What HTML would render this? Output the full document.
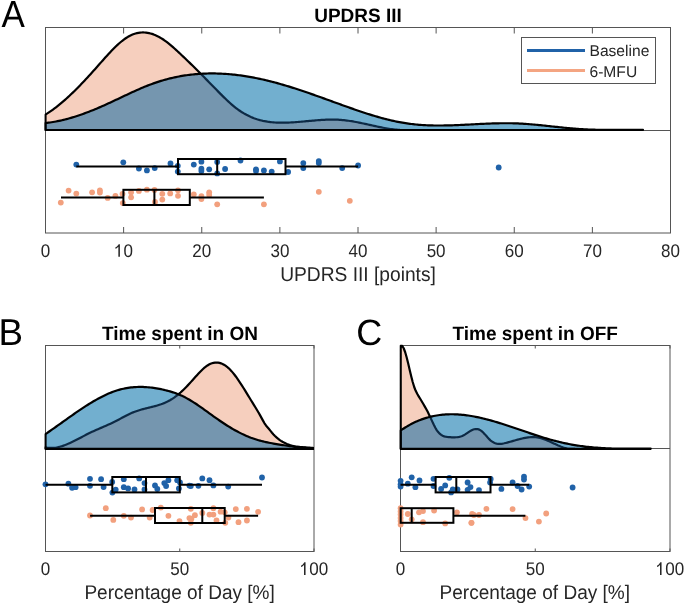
<!DOCTYPE html>
<html><head><meta charset="utf-8"><style>
html,body{margin:0;padding:0;background:#fff;width:685px;height:605px;overflow:hidden}
svg{display:block;position:absolute;left:0;top:0}
.tx{opacity:0.999;will-change:opacity}
text{font-family:"Liberation Sans",sans-serif;fill:#262626;text-rendering:geometricPrecision}
.tk{font-size:17px;text-anchor:middle}
.al{font-size:19.2px;text-anchor:middle}
.tt{font-size:19px;font-weight:bold;text-anchor:middle;fill:#000}
.lg{font-size:15.6px}
.pl{font-size:35.5px;fill:#000}
</style></head><body>
<svg width="685" height="605" viewBox="0 0 685 605">
<defs>
<clipPath id="clA"><rect x="44.3" y="0" width="626.2" height="605"/></clipPath>
<clipPath id="clB"><rect x="44.3" y="0" width="269.7" height="605"/></clipPath>
<clipPath id="clC"><rect x="399.3" y="0" width="270.7" height="605"/></clipPath>
</defs>
<rect x="45.5" y="27.5" width="625.0" height="205.5" fill="none" stroke="#555555" stroke-width="1"/>
<line x1="45.50" y1="27.5" x2="45.50" y2="33.5" stroke="#555555" stroke-width="1"/>
<line x1="45.50" y1="233.0" x2="45.50" y2="227.0" stroke="#555555" stroke-width="1"/>
<line x1="123.62" y1="27.5" x2="123.62" y2="33.5" stroke="#555555" stroke-width="1"/>
<line x1="123.62" y1="233.0" x2="123.62" y2="227.0" stroke="#555555" stroke-width="1"/>
<line x1="201.75" y1="27.5" x2="201.75" y2="33.5" stroke="#555555" stroke-width="1"/>
<line x1="201.75" y1="233.0" x2="201.75" y2="227.0" stroke="#555555" stroke-width="1"/>
<line x1="279.88" y1="27.5" x2="279.88" y2="33.5" stroke="#555555" stroke-width="1"/>
<line x1="279.88" y1="233.0" x2="279.88" y2="227.0" stroke="#555555" stroke-width="1"/>
<line x1="358.00" y1="27.5" x2="358.00" y2="33.5" stroke="#555555" stroke-width="1"/>
<line x1="358.00" y1="233.0" x2="358.00" y2="227.0" stroke="#555555" stroke-width="1"/>
<line x1="436.12" y1="27.5" x2="436.12" y2="33.5" stroke="#555555" stroke-width="1"/>
<line x1="436.12" y1="233.0" x2="436.12" y2="227.0" stroke="#555555" stroke-width="1"/>
<line x1="514.25" y1="27.5" x2="514.25" y2="33.5" stroke="#555555" stroke-width="1"/>
<line x1="514.25" y1="233.0" x2="514.25" y2="227.0" stroke="#555555" stroke-width="1"/>
<line x1="592.38" y1="27.5" x2="592.38" y2="33.5" stroke="#555555" stroke-width="1"/>
<line x1="592.38" y1="233.0" x2="592.38" y2="227.0" stroke="#555555" stroke-width="1"/>
<line x1="670.50" y1="27.5" x2="670.50" y2="33.5" stroke="#555555" stroke-width="1"/>
<line x1="670.50" y1="233.0" x2="670.50" y2="227.0" stroke="#555555" stroke-width="1"/>
<rect x="45.5" y="345.5" width="268.5" height="206.0" fill="none" stroke="#555555" stroke-width="1"/>
<line x1="45.50" y1="345.5" x2="45.50" y2="348.5" stroke="#555555" stroke-width="1"/>
<line x1="45.50" y1="551.5" x2="45.50" y2="548.5" stroke="#555555" stroke-width="1"/>
<line x1="179.75" y1="345.5" x2="179.75" y2="348.5" stroke="#555555" stroke-width="1"/>
<line x1="179.75" y1="551.5" x2="179.75" y2="548.5" stroke="#555555" stroke-width="1"/>
<line x1="314.00" y1="345.5" x2="314.00" y2="348.5" stroke="#555555" stroke-width="1"/>
<line x1="314.00" y1="551.5" x2="314.00" y2="548.5" stroke="#555555" stroke-width="1"/>
<rect x="400.5" y="345.5" width="269.5" height="206.0" fill="none" stroke="#555555" stroke-width="1"/>
<line x1="400.50" y1="345.5" x2="400.50" y2="348.5" stroke="#555555" stroke-width="1"/>
<line x1="400.50" y1="551.5" x2="400.50" y2="548.5" stroke="#555555" stroke-width="1"/>
<line x1="535.25" y1="345.5" x2="535.25" y2="348.5" stroke="#555555" stroke-width="1"/>
<line x1="535.25" y1="551.5" x2="535.25" y2="548.5" stroke="#555555" stroke-width="1"/>
<line x1="670.00" y1="345.5" x2="670.00" y2="348.5" stroke="#555555" stroke-width="1"/>
<line x1="670.00" y1="551.5" x2="670.00" y2="548.5" stroke="#555555" stroke-width="1"/>
<line x1="45.5" y1="130.5" x2="670.5" y2="130.5" stroke="#555555" stroke-width="1"/>
<line x1="45.5" y1="448.5" x2="314.0" y2="448.5" stroke="#555555" stroke-width="1"/>
<line x1="400.5" y1="448.5" x2="670.0" y2="448.5" stroke="#555555" stroke-width="1"/>
<g clip-path="url(#clA)"><clipPath id="A_oc"><path d="M45.50,130.00 L45.50,114.62 L47.00,113.68 L48.50,112.70 L50.00,111.69 L51.50,110.64 L53.00,109.56 L54.50,108.45 L56.00,107.31 L57.50,106.13 L59.00,104.93 L60.50,103.70 L62.00,102.44 L63.50,101.15 L65.00,99.83 L66.50,98.49 L68.00,97.13 L69.50,95.74 L71.00,94.32 L72.50,92.89 L74.00,91.43 L75.50,89.95 L77.00,88.46 L78.50,86.94 L80.00,85.40 L81.50,83.85 L83.00,82.28 L84.50,80.69 L86.00,79.08 L87.50,77.47 L89.00,75.83 L90.50,74.19 L92.00,72.53 L93.50,70.86 L95.00,69.18 L96.50,67.49 L98.00,65.80 L99.50,64.09 L101.00,62.39 L102.50,60.69 L104.00,58.99 L105.50,57.31 L107.00,55.65 L108.50,54.01 L110.00,52.40 L111.50,50.82 L113.00,49.27 L114.50,47.77 L116.00,46.31 L117.50,44.90 L119.00,43.54 L120.50,42.25 L122.00,41.01 L123.50,39.85 L125.00,38.76 L126.50,37.75 L128.00,36.82 L129.50,35.98 L131.00,35.22 L132.50,34.57 L134.00,34.00 L135.50,33.52 L137.00,33.13 L138.50,32.83 L140.00,32.62 L141.50,32.49 L143.00,32.44 L144.50,32.48 L146.00,32.60 L147.50,32.81 L149.00,33.09 L150.50,33.45 L152.00,33.89 L153.50,34.40 L155.00,34.99 L156.50,35.65 L158.00,36.39 L159.50,37.20 L161.00,38.08 L162.50,39.02 L164.00,40.03 L165.50,41.11 L167.00,42.23 L168.50,43.41 L170.00,44.63 L171.50,45.89 L173.00,47.19 L174.50,48.52 L176.00,49.87 L177.50,51.25 L179.00,52.64 L180.50,54.05 L182.00,55.46 L183.50,56.88 L185.00,58.31 L186.50,59.75 L188.00,61.20 L189.50,62.65 L191.00,64.11 L192.50,65.58 L194.00,67.06 L195.50,68.54 L197.00,70.04 L198.50,71.53 L200.00,73.04 L201.50,74.55 L203.00,76.06 L204.50,77.58 L206.00,79.11 L207.50,80.64 L209.00,82.17 L210.50,83.70 L212.00,85.23 L213.50,86.76 L215.00,88.30 L216.50,89.83 L218.00,91.36 L219.50,92.87 L221.00,94.38 L222.50,95.88 L224.00,97.35 L225.50,98.80 L227.00,100.23 L228.50,101.62 L230.00,102.98 L231.50,104.31 L233.00,105.59 L234.50,106.83 L236.00,108.02 L237.50,109.16 L239.00,110.24 L240.50,111.27 L242.00,112.24 L243.50,113.16 L245.00,114.02 L246.50,114.84 L248.00,115.60 L249.50,116.32 L251.00,116.99 L252.50,117.61 L254.00,118.19 L255.50,118.73 L257.00,119.23 L258.50,119.68 L260.00,120.10 L261.50,120.48 L263.00,120.83 L264.50,121.14 L266.00,121.42 L267.50,121.67 L269.00,121.88 L270.50,122.07 L272.00,122.23 L273.50,122.37 L275.00,122.48 L276.50,122.56 L278.00,122.63 L279.50,122.67 L281.00,122.70 L282.50,122.70 L284.00,122.69 L285.50,122.67 L287.00,122.63 L288.50,122.57 L290.00,122.51 L291.50,122.43 L293.00,122.34 L294.50,122.24 L296.00,122.13 L297.50,122.02 L299.00,121.89 L300.50,121.76 L302.00,121.63 L303.50,121.50 L305.00,121.36 L306.50,121.22 L308.00,121.07 L309.50,120.93 L311.00,120.80 L312.50,120.66 L314.00,120.53 L315.50,120.40 L317.00,120.27 L318.50,120.16 L320.00,120.05 L321.50,119.95 L323.00,119.86 L324.50,119.78 L326.00,119.71 L327.50,119.66 L329.00,119.61 L330.50,119.59 L332.00,119.58 L333.50,119.58 L335.00,119.61 L336.50,119.65 L338.00,119.71 L339.50,119.80 L341.00,119.90 L342.50,120.03 L344.00,120.18 L345.50,120.35 L347.00,120.54 L348.50,120.74 L350.00,120.97 L351.50,121.21 L353.00,121.46 L354.50,121.73 L356.00,122.01 L357.50,122.29 L359.00,122.59 L360.50,122.90 L362.00,123.21 L363.50,123.54 L365.00,123.86 L366.50,124.19 L368.00,124.52 L369.50,124.85 L371.00,125.19 L372.50,125.52 L374.00,125.85 L375.50,126.17 L377.00,126.49 L378.50,126.81 L380.00,127.12 L381.50,127.42 L383.00,127.71 L384.50,127.99 L386.00,128.26 L387.50,128.51 L389.00,128.75 L390.50,128.98 L392.00,129.19 L393.50,129.38 L395.00,129.55 L396.50,129.70 L398.00,129.83 L399.50,129.94 L400.00,129.97 L400.00,130.00 Z"/></clipPath>
<clipPath id="A_bc"><path d="M45.50,130.00 L45.50,123.05 L47.00,122.88 L48.50,122.70 L50.00,122.49 L51.50,122.27 L53.00,122.03 L54.50,121.77 L56.00,121.50 L57.50,121.20 L59.00,120.89 L60.50,120.57 L62.00,120.23 L63.50,119.87 L65.00,119.50 L66.50,119.11 L68.00,118.71 L69.50,118.29 L71.00,117.86 L72.50,117.41 L74.00,116.95 L75.50,116.48 L77.00,116.00 L78.50,115.50 L80.00,114.99 L81.50,114.47 L83.00,113.93 L84.50,113.39 L86.00,112.83 L87.50,112.27 L89.00,111.69 L90.50,111.10 L92.00,110.50 L93.50,109.90 L95.00,109.28 L96.50,108.65 L98.00,108.02 L99.50,107.38 L101.00,106.73 L102.50,106.07 L104.00,105.40 L105.50,104.73 L107.00,104.05 L108.50,103.36 L110.00,102.67 L111.50,101.97 L113.00,101.27 L114.50,100.57 L116.00,99.86 L117.50,99.15 L119.00,98.44 L120.50,97.73 L122.00,97.02 L123.50,96.31 L125.00,95.60 L126.50,94.89 L128.00,94.19 L129.50,93.49 L131.00,92.79 L132.50,92.10 L134.00,91.42 L135.50,90.74 L137.00,90.07 L138.50,89.41 L140.00,88.75 L141.50,88.11 L143.00,87.47 L144.50,86.85 L146.00,86.24 L147.50,85.64 L149.00,85.05 L150.50,84.48 L152.00,83.92 L153.50,83.38 L155.00,82.86 L156.50,82.34 L158.00,81.85 L159.50,81.37 L161.00,80.90 L162.50,80.45 L164.00,80.02 L165.50,79.60 L167.00,79.19 L168.50,78.80 L170.00,78.43 L171.50,78.07 L173.00,77.72 L174.50,77.39 L176.00,77.07 L177.50,76.76 L179.00,76.47 L180.50,76.20 L182.00,75.94 L183.50,75.69 L185.00,75.45 L186.50,75.23 L188.00,75.03 L189.50,74.83 L191.00,74.65 L192.50,74.48 L194.00,74.33 L195.50,74.18 L197.00,74.06 L198.50,73.94 L200.00,73.84 L201.50,73.74 L203.00,73.67 L204.50,73.60 L206.00,73.54 L207.50,73.50 L209.00,73.47 L210.50,73.45 L212.00,73.45 L213.50,73.45 L215.00,73.47 L216.50,73.50 L218.00,73.54 L219.50,73.59 L221.00,73.65 L222.50,73.73 L224.00,73.81 L225.50,73.91 L227.00,74.01 L228.50,74.13 L230.00,74.26 L231.50,74.40 L233.00,74.54 L234.50,74.70 L236.00,74.87 L237.50,75.05 L239.00,75.24 L240.50,75.44 L242.00,75.65 L243.50,75.87 L245.00,76.10 L246.50,76.33 L248.00,76.58 L249.50,76.84 L251.00,77.10 L252.50,77.38 L254.00,77.66 L255.50,77.96 L257.00,78.26 L258.50,78.57 L260.00,78.89 L261.50,79.21 L263.00,79.55 L264.50,79.89 L266.00,80.25 L267.50,80.61 L269.00,80.97 L270.50,81.35 L272.00,81.73 L273.50,82.13 L275.00,82.53 L276.50,82.93 L278.00,83.35 L279.50,83.77 L281.00,84.19 L282.50,84.63 L284.00,85.07 L285.50,85.51 L287.00,85.96 L288.50,86.42 L290.00,86.88 L291.50,87.35 L293.00,87.83 L294.50,88.31 L296.00,88.79 L297.50,89.28 L299.00,89.77 L300.50,90.27 L302.00,90.77 L303.50,91.27 L305.00,91.78 L306.50,92.30 L308.00,92.81 L309.50,93.33 L311.00,93.85 L312.50,94.38 L314.00,94.90 L315.50,95.43 L317.00,95.96 L318.50,96.50 L320.00,97.03 L321.50,97.57 L323.00,98.11 L324.50,98.65 L326.00,99.19 L327.50,99.73 L329.00,100.28 L330.50,100.82 L332.00,101.36 L333.50,101.91 L335.00,102.45 L336.50,103.00 L338.00,103.54 L339.50,104.08 L341.00,104.62 L342.50,105.16 L344.00,105.70 L345.50,106.24 L347.00,106.78 L348.50,107.31 L350.00,107.84 L351.50,108.37 L353.00,108.90 L354.50,109.42 L356.00,109.94 L357.50,110.45 L359.00,110.97 L360.50,111.47 L362.00,111.97 L363.50,112.47 L365.00,112.96 L366.50,113.45 L368.00,113.93 L369.50,114.40 L371.00,114.87 L372.50,115.33 L374.00,115.78 L375.50,116.23 L377.00,116.67 L378.50,117.10 L380.00,117.52 L381.50,117.94 L383.00,118.34 L384.50,118.74 L386.00,119.13 L387.50,119.51 L389.00,119.87 L390.50,120.23 L392.00,120.58 L393.50,120.92 L395.00,121.24 L396.50,121.56 L398.00,121.86 L399.50,122.15 L401.00,122.43 L402.50,122.70 L404.00,122.95 L405.50,123.19 L407.00,123.42 L408.50,123.64 L410.00,123.84 L411.50,124.02 L413.00,124.20 L414.50,124.36 L416.00,124.51 L417.50,124.65 L419.00,124.78 L420.50,124.89 L422.00,125.00 L423.50,125.09 L425.00,125.17 L426.50,125.25 L428.00,125.31 L429.50,125.37 L431.00,125.41 L432.50,125.45 L434.00,125.48 L435.50,125.50 L437.00,125.51 L438.50,125.52 L440.00,125.52 L441.50,125.51 L443.00,125.49 L444.50,125.47 L446.00,125.45 L447.50,125.41 L449.00,125.38 L450.50,125.33 L452.00,125.29 L453.50,125.24 L455.00,125.18 L456.50,125.12 L458.00,125.06 L459.50,124.99 L461.00,124.93 L462.50,124.86 L464.00,124.78 L465.50,124.71 L467.00,124.63 L468.50,124.56 L470.00,124.48 L471.50,124.40 L473.00,124.32 L474.50,124.25 L476.00,124.17 L477.50,124.09 L479.00,124.02 L480.50,123.94 L482.00,123.87 L483.50,123.80 L485.00,123.73 L486.50,123.67 L488.00,123.60 L489.50,123.54 L491.00,123.49 L492.50,123.44 L494.00,123.39 L495.50,123.35 L497.00,123.31 L498.50,123.28 L500.00,123.25 L501.50,123.25 L503.00,123.25 L504.50,123.25 L506.00,123.25 L507.50,123.25 L509.00,123.25 L510.50,123.25 L512.00,123.27 L513.50,123.31 L515.00,123.35 L516.50,123.41 L518.00,123.47 L519.50,123.54 L521.00,123.62 L522.50,123.71 L524.00,123.80 L525.50,123.91 L527.00,124.01 L528.50,124.13 L530.00,124.25 L531.50,124.37 L533.00,124.50 L534.50,124.64 L536.00,124.77 L537.50,124.92 L539.00,125.06 L540.50,125.21 L542.00,125.37 L543.50,125.52 L545.00,125.68 L546.50,125.84 L548.00,126.00 L549.50,126.16 L551.00,126.32 L552.50,126.48 L554.00,126.64 L555.50,126.80 L557.00,126.96 L558.50,127.12 L560.00,127.28 L561.50,127.44 L563.00,127.59 L564.50,127.74 L566.00,127.89 L567.50,128.03 L569.00,128.17 L570.50,128.31 L572.00,128.44 L573.50,128.57 L575.00,128.69 L576.50,128.81 L578.00,128.92 L579.50,129.02 L581.00,129.12 L582.50,129.21 L584.00,129.29 L585.50,129.37 L587.00,129.44 L588.50,129.51 L590.00,129.57 L591.50,129.62 L593.00,129.67 L594.50,129.72 L596.00,129.76 L597.50,129.79 L599.00,129.82 L600.50,129.85 L602.00,129.88 L603.50,129.89 L605.00,129.91 L606.50,129.92 L608.00,129.93 L609.50,129.94 L611.00,129.94 L612.50,129.95 L614.00,129.95 L615.50,129.95 L617.00,129.95 L618.50,129.95 L620.00,129.95 L621.50,129.95 L623.00,129.95 L624.50,129.95 L626.00,129.95 L627.50,129.95 L629.00,129.95 L630.50,129.95 L632.00,129.95 L633.50,129.95 L635.00,129.95 L636.50,129.95 L638.00,129.95 L639.50,129.95 L641.00,129.95 L642.50,129.95 L643.00,129.95 L643.00,130.00 Z"/></clipPath>
<path d="M45.50,130.00 L45.50,114.62 L47.00,113.68 L48.50,112.70 L50.00,111.69 L51.50,110.64 L53.00,109.56 L54.50,108.45 L56.00,107.31 L57.50,106.13 L59.00,104.93 L60.50,103.70 L62.00,102.44 L63.50,101.15 L65.00,99.83 L66.50,98.49 L68.00,97.13 L69.50,95.74 L71.00,94.32 L72.50,92.89 L74.00,91.43 L75.50,89.95 L77.00,88.46 L78.50,86.94 L80.00,85.40 L81.50,83.85 L83.00,82.28 L84.50,80.69 L86.00,79.08 L87.50,77.47 L89.00,75.83 L90.50,74.19 L92.00,72.53 L93.50,70.86 L95.00,69.18 L96.50,67.49 L98.00,65.80 L99.50,64.09 L101.00,62.39 L102.50,60.69 L104.00,58.99 L105.50,57.31 L107.00,55.65 L108.50,54.01 L110.00,52.40 L111.50,50.82 L113.00,49.27 L114.50,47.77 L116.00,46.31 L117.50,44.90 L119.00,43.54 L120.50,42.25 L122.00,41.01 L123.50,39.85 L125.00,38.76 L126.50,37.75 L128.00,36.82 L129.50,35.98 L131.00,35.22 L132.50,34.57 L134.00,34.00 L135.50,33.52 L137.00,33.13 L138.50,32.83 L140.00,32.62 L141.50,32.49 L143.00,32.44 L144.50,32.48 L146.00,32.60 L147.50,32.81 L149.00,33.09 L150.50,33.45 L152.00,33.89 L153.50,34.40 L155.00,34.99 L156.50,35.65 L158.00,36.39 L159.50,37.20 L161.00,38.08 L162.50,39.02 L164.00,40.03 L165.50,41.11 L167.00,42.23 L168.50,43.41 L170.00,44.63 L171.50,45.89 L173.00,47.19 L174.50,48.52 L176.00,49.87 L177.50,51.25 L179.00,52.64 L180.50,54.05 L182.00,55.46 L183.50,56.88 L185.00,58.31 L186.50,59.75 L188.00,61.20 L189.50,62.65 L191.00,64.11 L192.50,65.58 L194.00,67.06 L195.50,68.54 L197.00,70.04 L198.50,71.53 L200.00,73.04 L201.50,74.55 L203.00,76.06 L204.50,77.58 L206.00,79.11 L207.50,80.64 L209.00,82.17 L210.50,83.70 L212.00,85.23 L213.50,86.76 L215.00,88.30 L216.50,89.83 L218.00,91.36 L219.50,92.87 L221.00,94.38 L222.50,95.88 L224.00,97.35 L225.50,98.80 L227.00,100.23 L228.50,101.62 L230.00,102.98 L231.50,104.31 L233.00,105.59 L234.50,106.83 L236.00,108.02 L237.50,109.16 L239.00,110.24 L240.50,111.27 L242.00,112.24 L243.50,113.16 L245.00,114.02 L246.50,114.84 L248.00,115.60 L249.50,116.32 L251.00,116.99 L252.50,117.61 L254.00,118.19 L255.50,118.73 L257.00,119.23 L258.50,119.68 L260.00,120.10 L261.50,120.48 L263.00,120.83 L264.50,121.14 L266.00,121.42 L267.50,121.67 L269.00,121.88 L270.50,122.07 L272.00,122.23 L273.50,122.37 L275.00,122.48 L276.50,122.56 L278.00,122.63 L279.50,122.67 L281.00,122.70 L282.50,122.70 L284.00,122.69 L285.50,122.67 L287.00,122.63 L288.50,122.57 L290.00,122.51 L291.50,122.43 L293.00,122.34 L294.50,122.24 L296.00,122.13 L297.50,122.02 L299.00,121.89 L300.50,121.76 L302.00,121.63 L303.50,121.50 L305.00,121.36 L306.50,121.22 L308.00,121.07 L309.50,120.93 L311.00,120.80 L312.50,120.66 L314.00,120.53 L315.50,120.40 L317.00,120.27 L318.50,120.16 L320.00,120.05 L321.50,119.95 L323.00,119.86 L324.50,119.78 L326.00,119.71 L327.50,119.66 L329.00,119.61 L330.50,119.59 L332.00,119.58 L333.50,119.58 L335.00,119.61 L336.50,119.65 L338.00,119.71 L339.50,119.80 L341.00,119.90 L342.50,120.03 L344.00,120.18 L345.50,120.35 L347.00,120.54 L348.50,120.74 L350.00,120.97 L351.50,121.21 L353.00,121.46 L354.50,121.73 L356.00,122.01 L357.50,122.29 L359.00,122.59 L360.50,122.90 L362.00,123.21 L363.50,123.54 L365.00,123.86 L366.50,124.19 L368.00,124.52 L369.50,124.85 L371.00,125.19 L372.50,125.52 L374.00,125.85 L375.50,126.17 L377.00,126.49 L378.50,126.81 L380.00,127.12 L381.50,127.42 L383.00,127.71 L384.50,127.99 L386.00,128.26 L387.50,128.51 L389.00,128.75 L390.50,128.98 L392.00,129.19 L393.50,129.38 L395.00,129.55 L396.50,129.70 L398.00,129.83 L399.50,129.94 L400.00,129.97 L400.00,130.00 Z" fill="#f6cfbe" stroke="#000" stroke-width="2.2" stroke-linejoin="round"/>
<path d="M45.50,130.00 L45.50,123.05 L47.00,122.88 L48.50,122.70 L50.00,122.49 L51.50,122.27 L53.00,122.03 L54.50,121.77 L56.00,121.50 L57.50,121.20 L59.00,120.89 L60.50,120.57 L62.00,120.23 L63.50,119.87 L65.00,119.50 L66.50,119.11 L68.00,118.71 L69.50,118.29 L71.00,117.86 L72.50,117.41 L74.00,116.95 L75.50,116.48 L77.00,116.00 L78.50,115.50 L80.00,114.99 L81.50,114.47 L83.00,113.93 L84.50,113.39 L86.00,112.83 L87.50,112.27 L89.00,111.69 L90.50,111.10 L92.00,110.50 L93.50,109.90 L95.00,109.28 L96.50,108.65 L98.00,108.02 L99.50,107.38 L101.00,106.73 L102.50,106.07 L104.00,105.40 L105.50,104.73 L107.00,104.05 L108.50,103.36 L110.00,102.67 L111.50,101.97 L113.00,101.27 L114.50,100.57 L116.00,99.86 L117.50,99.15 L119.00,98.44 L120.50,97.73 L122.00,97.02 L123.50,96.31 L125.00,95.60 L126.50,94.89 L128.00,94.19 L129.50,93.49 L131.00,92.79 L132.50,92.10 L134.00,91.42 L135.50,90.74 L137.00,90.07 L138.50,89.41 L140.00,88.75 L141.50,88.11 L143.00,87.47 L144.50,86.85 L146.00,86.24 L147.50,85.64 L149.00,85.05 L150.50,84.48 L152.00,83.92 L153.50,83.38 L155.00,82.86 L156.50,82.34 L158.00,81.85 L159.50,81.37 L161.00,80.90 L162.50,80.45 L164.00,80.02 L165.50,79.60 L167.00,79.19 L168.50,78.80 L170.00,78.43 L171.50,78.07 L173.00,77.72 L174.50,77.39 L176.00,77.07 L177.50,76.76 L179.00,76.47 L180.50,76.20 L182.00,75.94 L183.50,75.69 L185.00,75.45 L186.50,75.23 L188.00,75.03 L189.50,74.83 L191.00,74.65 L192.50,74.48 L194.00,74.33 L195.50,74.18 L197.00,74.06 L198.50,73.94 L200.00,73.84 L201.50,73.74 L203.00,73.67 L204.50,73.60 L206.00,73.54 L207.50,73.50 L209.00,73.47 L210.50,73.45 L212.00,73.45 L213.50,73.45 L215.00,73.47 L216.50,73.50 L218.00,73.54 L219.50,73.59 L221.00,73.65 L222.50,73.73 L224.00,73.81 L225.50,73.91 L227.00,74.01 L228.50,74.13 L230.00,74.26 L231.50,74.40 L233.00,74.54 L234.50,74.70 L236.00,74.87 L237.50,75.05 L239.00,75.24 L240.50,75.44 L242.00,75.65 L243.50,75.87 L245.00,76.10 L246.50,76.33 L248.00,76.58 L249.50,76.84 L251.00,77.10 L252.50,77.38 L254.00,77.66 L255.50,77.96 L257.00,78.26 L258.50,78.57 L260.00,78.89 L261.50,79.21 L263.00,79.55 L264.50,79.89 L266.00,80.25 L267.50,80.61 L269.00,80.97 L270.50,81.35 L272.00,81.73 L273.50,82.13 L275.00,82.53 L276.50,82.93 L278.00,83.35 L279.50,83.77 L281.00,84.19 L282.50,84.63 L284.00,85.07 L285.50,85.51 L287.00,85.96 L288.50,86.42 L290.00,86.88 L291.50,87.35 L293.00,87.83 L294.50,88.31 L296.00,88.79 L297.50,89.28 L299.00,89.77 L300.50,90.27 L302.00,90.77 L303.50,91.27 L305.00,91.78 L306.50,92.30 L308.00,92.81 L309.50,93.33 L311.00,93.85 L312.50,94.38 L314.00,94.90 L315.50,95.43 L317.00,95.96 L318.50,96.50 L320.00,97.03 L321.50,97.57 L323.00,98.11 L324.50,98.65 L326.00,99.19 L327.50,99.73 L329.00,100.28 L330.50,100.82 L332.00,101.36 L333.50,101.91 L335.00,102.45 L336.50,103.00 L338.00,103.54 L339.50,104.08 L341.00,104.62 L342.50,105.16 L344.00,105.70 L345.50,106.24 L347.00,106.78 L348.50,107.31 L350.00,107.84 L351.50,108.37 L353.00,108.90 L354.50,109.42 L356.00,109.94 L357.50,110.45 L359.00,110.97 L360.50,111.47 L362.00,111.97 L363.50,112.47 L365.00,112.96 L366.50,113.45 L368.00,113.93 L369.50,114.40 L371.00,114.87 L372.50,115.33 L374.00,115.78 L375.50,116.23 L377.00,116.67 L378.50,117.10 L380.00,117.52 L381.50,117.94 L383.00,118.34 L384.50,118.74 L386.00,119.13 L387.50,119.51 L389.00,119.87 L390.50,120.23 L392.00,120.58 L393.50,120.92 L395.00,121.24 L396.50,121.56 L398.00,121.86 L399.50,122.15 L401.00,122.43 L402.50,122.70 L404.00,122.95 L405.50,123.19 L407.00,123.42 L408.50,123.64 L410.00,123.84 L411.50,124.02 L413.00,124.20 L414.50,124.36 L416.00,124.51 L417.50,124.65 L419.00,124.78 L420.50,124.89 L422.00,125.00 L423.50,125.09 L425.00,125.17 L426.50,125.25 L428.00,125.31 L429.50,125.37 L431.00,125.41 L432.50,125.45 L434.00,125.48 L435.50,125.50 L437.00,125.51 L438.50,125.52 L440.00,125.52 L441.50,125.51 L443.00,125.49 L444.50,125.47 L446.00,125.45 L447.50,125.41 L449.00,125.38 L450.50,125.33 L452.00,125.29 L453.50,125.24 L455.00,125.18 L456.50,125.12 L458.00,125.06 L459.50,124.99 L461.00,124.93 L462.50,124.86 L464.00,124.78 L465.50,124.71 L467.00,124.63 L468.50,124.56 L470.00,124.48 L471.50,124.40 L473.00,124.32 L474.50,124.25 L476.00,124.17 L477.50,124.09 L479.00,124.02 L480.50,123.94 L482.00,123.87 L483.50,123.80 L485.00,123.73 L486.50,123.67 L488.00,123.60 L489.50,123.54 L491.00,123.49 L492.50,123.44 L494.00,123.39 L495.50,123.35 L497.00,123.31 L498.50,123.28 L500.00,123.25 L501.50,123.25 L503.00,123.25 L504.50,123.25 L506.00,123.25 L507.50,123.25 L509.00,123.25 L510.50,123.25 L512.00,123.27 L513.50,123.31 L515.00,123.35 L516.50,123.41 L518.00,123.47 L519.50,123.54 L521.00,123.62 L522.50,123.71 L524.00,123.80 L525.50,123.91 L527.00,124.01 L528.50,124.13 L530.00,124.25 L531.50,124.37 L533.00,124.50 L534.50,124.64 L536.00,124.77 L537.50,124.92 L539.00,125.06 L540.50,125.21 L542.00,125.37 L543.50,125.52 L545.00,125.68 L546.50,125.84 L548.00,126.00 L549.50,126.16 L551.00,126.32 L552.50,126.48 L554.00,126.64 L555.50,126.80 L557.00,126.96 L558.50,127.12 L560.00,127.28 L561.50,127.44 L563.00,127.59 L564.50,127.74 L566.00,127.89 L567.50,128.03 L569.00,128.17 L570.50,128.31 L572.00,128.44 L573.50,128.57 L575.00,128.69 L576.50,128.81 L578.00,128.92 L579.50,129.02 L581.00,129.12 L582.50,129.21 L584.00,129.29 L585.50,129.37 L587.00,129.44 L588.50,129.51 L590.00,129.57 L591.50,129.62 L593.00,129.67 L594.50,129.72 L596.00,129.76 L597.50,129.79 L599.00,129.82 L600.50,129.85 L602.00,129.88 L603.50,129.89 L605.00,129.91 L606.50,129.92 L608.00,129.93 L609.50,129.94 L611.00,129.94 L612.50,129.95 L614.00,129.95 L615.50,129.95 L617.00,129.95 L618.50,129.95 L620.00,129.95 L621.50,129.95 L623.00,129.95 L624.50,129.95 L626.00,129.95 L627.50,129.95 L629.00,129.95 L630.50,129.95 L632.00,129.95 L633.50,129.95 L635.00,129.95 L636.50,129.95 L638.00,129.95 L639.50,129.95 L641.00,129.95 L642.50,129.95 L643.00,129.95 L643.00,130.00 Z" fill="#72afcf"/>
<path d="M45.50,130.00 L45.50,123.05 L47.00,122.88 L48.50,122.70 L50.00,122.49 L51.50,122.27 L53.00,122.03 L54.50,121.77 L56.00,121.50 L57.50,121.20 L59.00,120.89 L60.50,120.57 L62.00,120.23 L63.50,119.87 L65.00,119.50 L66.50,119.11 L68.00,118.71 L69.50,118.29 L71.00,117.86 L72.50,117.41 L74.00,116.95 L75.50,116.48 L77.00,116.00 L78.50,115.50 L80.00,114.99 L81.50,114.47 L83.00,113.93 L84.50,113.39 L86.00,112.83 L87.50,112.27 L89.00,111.69 L90.50,111.10 L92.00,110.50 L93.50,109.90 L95.00,109.28 L96.50,108.65 L98.00,108.02 L99.50,107.38 L101.00,106.73 L102.50,106.07 L104.00,105.40 L105.50,104.73 L107.00,104.05 L108.50,103.36 L110.00,102.67 L111.50,101.97 L113.00,101.27 L114.50,100.57 L116.00,99.86 L117.50,99.15 L119.00,98.44 L120.50,97.73 L122.00,97.02 L123.50,96.31 L125.00,95.60 L126.50,94.89 L128.00,94.19 L129.50,93.49 L131.00,92.79 L132.50,92.10 L134.00,91.42 L135.50,90.74 L137.00,90.07 L138.50,89.41 L140.00,88.75 L141.50,88.11 L143.00,87.47 L144.50,86.85 L146.00,86.24 L147.50,85.64 L149.00,85.05 L150.50,84.48 L152.00,83.92 L153.50,83.38 L155.00,82.86 L156.50,82.34 L158.00,81.85 L159.50,81.37 L161.00,80.90 L162.50,80.45 L164.00,80.02 L165.50,79.60 L167.00,79.19 L168.50,78.80 L170.00,78.43 L171.50,78.07 L173.00,77.72 L174.50,77.39 L176.00,77.07 L177.50,76.76 L179.00,76.47 L180.50,76.20 L182.00,75.94 L183.50,75.69 L185.00,75.45 L186.50,75.23 L188.00,75.03 L189.50,74.83 L191.00,74.65 L192.50,74.48 L194.00,74.33 L195.50,74.18 L197.00,74.06 L198.50,73.94 L200.00,73.84 L201.50,73.74 L203.00,73.67 L204.50,73.60 L206.00,73.54 L207.50,73.50 L209.00,73.47 L210.50,73.45 L212.00,73.45 L213.50,73.45 L215.00,73.47 L216.50,73.50 L218.00,73.54 L219.50,73.59 L221.00,73.65 L222.50,73.73 L224.00,73.81 L225.50,73.91 L227.00,74.01 L228.50,74.13 L230.00,74.26 L231.50,74.40 L233.00,74.54 L234.50,74.70 L236.00,74.87 L237.50,75.05 L239.00,75.24 L240.50,75.44 L242.00,75.65 L243.50,75.87 L245.00,76.10 L246.50,76.33 L248.00,76.58 L249.50,76.84 L251.00,77.10 L252.50,77.38 L254.00,77.66 L255.50,77.96 L257.00,78.26 L258.50,78.57 L260.00,78.89 L261.50,79.21 L263.00,79.55 L264.50,79.89 L266.00,80.25 L267.50,80.61 L269.00,80.97 L270.50,81.35 L272.00,81.73 L273.50,82.13 L275.00,82.53 L276.50,82.93 L278.00,83.35 L279.50,83.77 L281.00,84.19 L282.50,84.63 L284.00,85.07 L285.50,85.51 L287.00,85.96 L288.50,86.42 L290.00,86.88 L291.50,87.35 L293.00,87.83 L294.50,88.31 L296.00,88.79 L297.50,89.28 L299.00,89.77 L300.50,90.27 L302.00,90.77 L303.50,91.27 L305.00,91.78 L306.50,92.30 L308.00,92.81 L309.50,93.33 L311.00,93.85 L312.50,94.38 L314.00,94.90 L315.50,95.43 L317.00,95.96 L318.50,96.50 L320.00,97.03 L321.50,97.57 L323.00,98.11 L324.50,98.65 L326.00,99.19 L327.50,99.73 L329.00,100.28 L330.50,100.82 L332.00,101.36 L333.50,101.91 L335.00,102.45 L336.50,103.00 L338.00,103.54 L339.50,104.08 L341.00,104.62 L342.50,105.16 L344.00,105.70 L345.50,106.24 L347.00,106.78 L348.50,107.31 L350.00,107.84 L351.50,108.37 L353.00,108.90 L354.50,109.42 L356.00,109.94 L357.50,110.45 L359.00,110.97 L360.50,111.47 L362.00,111.97 L363.50,112.47 L365.00,112.96 L366.50,113.45 L368.00,113.93 L369.50,114.40 L371.00,114.87 L372.50,115.33 L374.00,115.78 L375.50,116.23 L377.00,116.67 L378.50,117.10 L380.00,117.52 L381.50,117.94 L383.00,118.34 L384.50,118.74 L386.00,119.13 L387.50,119.51 L389.00,119.87 L390.50,120.23 L392.00,120.58 L393.50,120.92 L395.00,121.24 L396.50,121.56 L398.00,121.86 L399.50,122.15 L401.00,122.43 L402.50,122.70 L404.00,122.95 L405.50,123.19 L407.00,123.42 L408.50,123.64 L410.00,123.84 L411.50,124.02 L413.00,124.20 L414.50,124.36 L416.00,124.51 L417.50,124.65 L419.00,124.78 L420.50,124.89 L422.00,125.00 L423.50,125.09 L425.00,125.17 L426.50,125.25 L428.00,125.31 L429.50,125.37 L431.00,125.41 L432.50,125.45 L434.00,125.48 L435.50,125.50 L437.00,125.51 L438.50,125.52 L440.00,125.52 L441.50,125.51 L443.00,125.49 L444.50,125.47 L446.00,125.45 L447.50,125.41 L449.00,125.38 L450.50,125.33 L452.00,125.29 L453.50,125.24 L455.00,125.18 L456.50,125.12 L458.00,125.06 L459.50,124.99 L461.00,124.93 L462.50,124.86 L464.00,124.78 L465.50,124.71 L467.00,124.63 L468.50,124.56 L470.00,124.48 L471.50,124.40 L473.00,124.32 L474.50,124.25 L476.00,124.17 L477.50,124.09 L479.00,124.02 L480.50,123.94 L482.00,123.87 L483.50,123.80 L485.00,123.73 L486.50,123.67 L488.00,123.60 L489.50,123.54 L491.00,123.49 L492.50,123.44 L494.00,123.39 L495.50,123.35 L497.00,123.31 L498.50,123.28 L500.00,123.25 L501.50,123.25 L503.00,123.25 L504.50,123.25 L506.00,123.25 L507.50,123.25 L509.00,123.25 L510.50,123.25 L512.00,123.27 L513.50,123.31 L515.00,123.35 L516.50,123.41 L518.00,123.47 L519.50,123.54 L521.00,123.62 L522.50,123.71 L524.00,123.80 L525.50,123.91 L527.00,124.01 L528.50,124.13 L530.00,124.25 L531.50,124.37 L533.00,124.50 L534.50,124.64 L536.00,124.77 L537.50,124.92 L539.00,125.06 L540.50,125.21 L542.00,125.37 L543.50,125.52 L545.00,125.68 L546.50,125.84 L548.00,126.00 L549.50,126.16 L551.00,126.32 L552.50,126.48 L554.00,126.64 L555.50,126.80 L557.00,126.96 L558.50,127.12 L560.00,127.28 L561.50,127.44 L563.00,127.59 L564.50,127.74 L566.00,127.89 L567.50,128.03 L569.00,128.17 L570.50,128.31 L572.00,128.44 L573.50,128.57 L575.00,128.69 L576.50,128.81 L578.00,128.92 L579.50,129.02 L581.00,129.12 L582.50,129.21 L584.00,129.29 L585.50,129.37 L587.00,129.44 L588.50,129.51 L590.00,129.57 L591.50,129.62 L593.00,129.67 L594.50,129.72 L596.00,129.76 L597.50,129.79 L599.00,129.82 L600.50,129.85 L602.00,129.88 L603.50,129.89 L605.00,129.91 L606.50,129.92 L608.00,129.93 L609.50,129.94 L611.00,129.94 L612.50,129.95 L614.00,129.95 L615.50,129.95 L617.00,129.95 L618.50,129.95 L620.00,129.95 L621.50,129.95 L623.00,129.95 L624.50,129.95 L626.00,129.95 L627.50,129.95 L629.00,129.95 L630.50,129.95 L632.00,129.95 L633.50,129.95 L635.00,129.95 L636.50,129.95 L638.00,129.95 L639.50,129.95 L641.00,129.95 L642.50,129.95 L643.00,129.95 L643.00,130.00 Z" fill="#7596af" clip-path="url(#A_oc)"/>
<path d="M45.50,130.00 L45.50,114.62 L47.00,113.68 L48.50,112.70 L50.00,111.69 L51.50,110.64 L53.00,109.56 L54.50,108.45 L56.00,107.31 L57.50,106.13 L59.00,104.93 L60.50,103.70 L62.00,102.44 L63.50,101.15 L65.00,99.83 L66.50,98.49 L68.00,97.13 L69.50,95.74 L71.00,94.32 L72.50,92.89 L74.00,91.43 L75.50,89.95 L77.00,88.46 L78.50,86.94 L80.00,85.40 L81.50,83.85 L83.00,82.28 L84.50,80.69 L86.00,79.08 L87.50,77.47 L89.00,75.83 L90.50,74.19 L92.00,72.53 L93.50,70.86 L95.00,69.18 L96.50,67.49 L98.00,65.80 L99.50,64.09 L101.00,62.39 L102.50,60.69 L104.00,58.99 L105.50,57.31 L107.00,55.65 L108.50,54.01 L110.00,52.40 L111.50,50.82 L113.00,49.27 L114.50,47.77 L116.00,46.31 L117.50,44.90 L119.00,43.54 L120.50,42.25 L122.00,41.01 L123.50,39.85 L125.00,38.76 L126.50,37.75 L128.00,36.82 L129.50,35.98 L131.00,35.22 L132.50,34.57 L134.00,34.00 L135.50,33.52 L137.00,33.13 L138.50,32.83 L140.00,32.62 L141.50,32.49 L143.00,32.44 L144.50,32.48 L146.00,32.60 L147.50,32.81 L149.00,33.09 L150.50,33.45 L152.00,33.89 L153.50,34.40 L155.00,34.99 L156.50,35.65 L158.00,36.39 L159.50,37.20 L161.00,38.08 L162.50,39.02 L164.00,40.03 L165.50,41.11 L167.00,42.23 L168.50,43.41 L170.00,44.63 L171.50,45.89 L173.00,47.19 L174.50,48.52 L176.00,49.87 L177.50,51.25 L179.00,52.64 L180.50,54.05 L182.00,55.46 L183.50,56.88 L185.00,58.31 L186.50,59.75 L188.00,61.20 L189.50,62.65 L191.00,64.11 L192.50,65.58 L194.00,67.06 L195.50,68.54 L197.00,70.04 L198.50,71.53 L200.00,73.04 L201.50,74.55 L203.00,76.06 L204.50,77.58 L206.00,79.11 L207.50,80.64 L209.00,82.17 L210.50,83.70 L212.00,85.23 L213.50,86.76 L215.00,88.30 L216.50,89.83 L218.00,91.36 L219.50,92.87 L221.00,94.38 L222.50,95.88 L224.00,97.35 L225.50,98.80 L227.00,100.23 L228.50,101.62 L230.00,102.98 L231.50,104.31 L233.00,105.59 L234.50,106.83 L236.00,108.02 L237.50,109.16 L239.00,110.24 L240.50,111.27 L242.00,112.24 L243.50,113.16 L245.00,114.02 L246.50,114.84 L248.00,115.60 L249.50,116.32 L251.00,116.99 L252.50,117.61 L254.00,118.19 L255.50,118.73 L257.00,119.23 L258.50,119.68 L260.00,120.10 L261.50,120.48 L263.00,120.83 L264.50,121.14 L266.00,121.42 L267.50,121.67 L269.00,121.88 L270.50,122.07 L272.00,122.23 L273.50,122.37 L275.00,122.48 L276.50,122.56 L278.00,122.63 L279.50,122.67 L281.00,122.70 L282.50,122.70 L284.00,122.69 L285.50,122.67 L287.00,122.63 L288.50,122.57 L290.00,122.51 L291.50,122.43 L293.00,122.34 L294.50,122.24 L296.00,122.13 L297.50,122.02 L299.00,121.89 L300.50,121.76 L302.00,121.63 L303.50,121.50 L305.00,121.36 L306.50,121.22 L308.00,121.07 L309.50,120.93 L311.00,120.80 L312.50,120.66 L314.00,120.53 L315.50,120.40 L317.00,120.27 L318.50,120.16 L320.00,120.05 L321.50,119.95 L323.00,119.86 L324.50,119.78 L326.00,119.71 L327.50,119.66 L329.00,119.61 L330.50,119.59 L332.00,119.58 L333.50,119.58 L335.00,119.61 L336.50,119.65 L338.00,119.71 L339.50,119.80 L341.00,119.90 L342.50,120.03 L344.00,120.18 L345.50,120.35 L347.00,120.54 L348.50,120.74 L350.00,120.97 L351.50,121.21 L353.00,121.46 L354.50,121.73 L356.00,122.01 L357.50,122.29 L359.00,122.59 L360.50,122.90 L362.00,123.21 L363.50,123.54 L365.00,123.86 L366.50,124.19 L368.00,124.52 L369.50,124.85 L371.00,125.19 L372.50,125.52 L374.00,125.85 L375.50,126.17 L377.00,126.49 L378.50,126.81 L380.00,127.12 L381.50,127.42 L383.00,127.71 L384.50,127.99 L386.00,128.26 L387.50,128.51 L389.00,128.75 L390.50,128.98 L392.00,129.19 L393.50,129.38 L395.00,129.55 L396.50,129.70 L398.00,129.83 L399.50,129.94 L400.00,129.97" fill="none" stroke="#0d2a45" stroke-width="2.2" clip-path="url(#A_bc)"/>
<path d="M45.50,130.00 L45.50,123.05 L47.00,122.88 L48.50,122.70 L50.00,122.49 L51.50,122.27 L53.00,122.03 L54.50,121.77 L56.00,121.50 L57.50,121.20 L59.00,120.89 L60.50,120.57 L62.00,120.23 L63.50,119.87 L65.00,119.50 L66.50,119.11 L68.00,118.71 L69.50,118.29 L71.00,117.86 L72.50,117.41 L74.00,116.95 L75.50,116.48 L77.00,116.00 L78.50,115.50 L80.00,114.99 L81.50,114.47 L83.00,113.93 L84.50,113.39 L86.00,112.83 L87.50,112.27 L89.00,111.69 L90.50,111.10 L92.00,110.50 L93.50,109.90 L95.00,109.28 L96.50,108.65 L98.00,108.02 L99.50,107.38 L101.00,106.73 L102.50,106.07 L104.00,105.40 L105.50,104.73 L107.00,104.05 L108.50,103.36 L110.00,102.67 L111.50,101.97 L113.00,101.27 L114.50,100.57 L116.00,99.86 L117.50,99.15 L119.00,98.44 L120.50,97.73 L122.00,97.02 L123.50,96.31 L125.00,95.60 L126.50,94.89 L128.00,94.19 L129.50,93.49 L131.00,92.79 L132.50,92.10 L134.00,91.42 L135.50,90.74 L137.00,90.07 L138.50,89.41 L140.00,88.75 L141.50,88.11 L143.00,87.47 L144.50,86.85 L146.00,86.24 L147.50,85.64 L149.00,85.05 L150.50,84.48 L152.00,83.92 L153.50,83.38 L155.00,82.86 L156.50,82.34 L158.00,81.85 L159.50,81.37 L161.00,80.90 L162.50,80.45 L164.00,80.02 L165.50,79.60 L167.00,79.19 L168.50,78.80 L170.00,78.43 L171.50,78.07 L173.00,77.72 L174.50,77.39 L176.00,77.07 L177.50,76.76 L179.00,76.47 L180.50,76.20 L182.00,75.94 L183.50,75.69 L185.00,75.45 L186.50,75.23 L188.00,75.03 L189.50,74.83 L191.00,74.65 L192.50,74.48 L194.00,74.33 L195.50,74.18 L197.00,74.06 L198.50,73.94 L200.00,73.84 L201.50,73.74 L203.00,73.67 L204.50,73.60 L206.00,73.54 L207.50,73.50 L209.00,73.47 L210.50,73.45 L212.00,73.45 L213.50,73.45 L215.00,73.47 L216.50,73.50 L218.00,73.54 L219.50,73.59 L221.00,73.65 L222.50,73.73 L224.00,73.81 L225.50,73.91 L227.00,74.01 L228.50,74.13 L230.00,74.26 L231.50,74.40 L233.00,74.54 L234.50,74.70 L236.00,74.87 L237.50,75.05 L239.00,75.24 L240.50,75.44 L242.00,75.65 L243.50,75.87 L245.00,76.10 L246.50,76.33 L248.00,76.58 L249.50,76.84 L251.00,77.10 L252.50,77.38 L254.00,77.66 L255.50,77.96 L257.00,78.26 L258.50,78.57 L260.00,78.89 L261.50,79.21 L263.00,79.55 L264.50,79.89 L266.00,80.25 L267.50,80.61 L269.00,80.97 L270.50,81.35 L272.00,81.73 L273.50,82.13 L275.00,82.53 L276.50,82.93 L278.00,83.35 L279.50,83.77 L281.00,84.19 L282.50,84.63 L284.00,85.07 L285.50,85.51 L287.00,85.96 L288.50,86.42 L290.00,86.88 L291.50,87.35 L293.00,87.83 L294.50,88.31 L296.00,88.79 L297.50,89.28 L299.00,89.77 L300.50,90.27 L302.00,90.77 L303.50,91.27 L305.00,91.78 L306.50,92.30 L308.00,92.81 L309.50,93.33 L311.00,93.85 L312.50,94.38 L314.00,94.90 L315.50,95.43 L317.00,95.96 L318.50,96.50 L320.00,97.03 L321.50,97.57 L323.00,98.11 L324.50,98.65 L326.00,99.19 L327.50,99.73 L329.00,100.28 L330.50,100.82 L332.00,101.36 L333.50,101.91 L335.00,102.45 L336.50,103.00 L338.00,103.54 L339.50,104.08 L341.00,104.62 L342.50,105.16 L344.00,105.70 L345.50,106.24 L347.00,106.78 L348.50,107.31 L350.00,107.84 L351.50,108.37 L353.00,108.90 L354.50,109.42 L356.00,109.94 L357.50,110.45 L359.00,110.97 L360.50,111.47 L362.00,111.97 L363.50,112.47 L365.00,112.96 L366.50,113.45 L368.00,113.93 L369.50,114.40 L371.00,114.87 L372.50,115.33 L374.00,115.78 L375.50,116.23 L377.00,116.67 L378.50,117.10 L380.00,117.52 L381.50,117.94 L383.00,118.34 L384.50,118.74 L386.00,119.13 L387.50,119.51 L389.00,119.87 L390.50,120.23 L392.00,120.58 L393.50,120.92 L395.00,121.24 L396.50,121.56 L398.00,121.86 L399.50,122.15 L401.00,122.43 L402.50,122.70 L404.00,122.95 L405.50,123.19 L407.00,123.42 L408.50,123.64 L410.00,123.84 L411.50,124.02 L413.00,124.20 L414.50,124.36 L416.00,124.51 L417.50,124.65 L419.00,124.78 L420.50,124.89 L422.00,125.00 L423.50,125.09 L425.00,125.17 L426.50,125.25 L428.00,125.31 L429.50,125.37 L431.00,125.41 L432.50,125.45 L434.00,125.48 L435.50,125.50 L437.00,125.51 L438.50,125.52 L440.00,125.52 L441.50,125.51 L443.00,125.49 L444.50,125.47 L446.00,125.45 L447.50,125.41 L449.00,125.38 L450.50,125.33 L452.00,125.29 L453.50,125.24 L455.00,125.18 L456.50,125.12 L458.00,125.06 L459.50,124.99 L461.00,124.93 L462.50,124.86 L464.00,124.78 L465.50,124.71 L467.00,124.63 L468.50,124.56 L470.00,124.48 L471.50,124.40 L473.00,124.32 L474.50,124.25 L476.00,124.17 L477.50,124.09 L479.00,124.02 L480.50,123.94 L482.00,123.87 L483.50,123.80 L485.00,123.73 L486.50,123.67 L488.00,123.60 L489.50,123.54 L491.00,123.49 L492.50,123.44 L494.00,123.39 L495.50,123.35 L497.00,123.31 L498.50,123.28 L500.00,123.25 L501.50,123.25 L503.00,123.25 L504.50,123.25 L506.00,123.25 L507.50,123.25 L509.00,123.25 L510.50,123.25 L512.00,123.27 L513.50,123.31 L515.00,123.35 L516.50,123.41 L518.00,123.47 L519.50,123.54 L521.00,123.62 L522.50,123.71 L524.00,123.80 L525.50,123.91 L527.00,124.01 L528.50,124.13 L530.00,124.25 L531.50,124.37 L533.00,124.50 L534.50,124.64 L536.00,124.77 L537.50,124.92 L539.00,125.06 L540.50,125.21 L542.00,125.37 L543.50,125.52 L545.00,125.68 L546.50,125.84 L548.00,126.00 L549.50,126.16 L551.00,126.32 L552.50,126.48 L554.00,126.64 L555.50,126.80 L557.00,126.96 L558.50,127.12 L560.00,127.28 L561.50,127.44 L563.00,127.59 L564.50,127.74 L566.00,127.89 L567.50,128.03 L569.00,128.17 L570.50,128.31 L572.00,128.44 L573.50,128.57 L575.00,128.69 L576.50,128.81 L578.00,128.92 L579.50,129.02 L581.00,129.12 L582.50,129.21 L584.00,129.29 L585.50,129.37 L587.00,129.44 L588.50,129.51 L590.00,129.57 L591.50,129.62 L593.00,129.67 L594.50,129.72 L596.00,129.76 L597.50,129.79 L599.00,129.82 L600.50,129.85 L602.00,129.88 L603.50,129.89 L605.00,129.91 L606.50,129.92 L608.00,129.93 L609.50,129.94 L611.00,129.94 L612.50,129.95 L614.00,129.95 L615.50,129.95 L617.00,129.95 L618.50,129.95 L620.00,129.95 L621.50,129.95 L623.00,129.95 L624.50,129.95 L626.00,129.95 L627.50,129.95 L629.00,129.95 L630.50,129.95 L632.00,129.95 L633.50,129.95 L635.00,129.95 L636.50,129.95 L638.00,129.95 L639.50,129.95 L641.00,129.95 L642.50,129.95 L643.00,129.95 L643.00,130.00 Z" fill="none" stroke="#000" stroke-width="2.2" stroke-linejoin="round"/></g>
<g clip-path="url(#clB)"><clipPath id="B_oc"><path d="M45.50,448.80 L45.50,447.38 L47.00,447.64 L48.50,447.82 L50.00,447.92 L51.50,447.93 L53.00,447.87 L54.50,447.73 L56.00,447.53 L57.50,447.26 L59.00,446.93 L60.50,446.54 L62.00,446.09 L63.50,445.60 L65.00,445.06 L66.50,444.48 L68.00,443.86 L69.50,443.20 L71.00,442.52 L72.50,441.81 L74.00,441.07 L75.50,440.32 L77.00,439.55 L78.50,438.77 L80.00,437.98 L81.50,437.19 L83.00,436.40 L84.50,435.61 L86.00,434.83 L87.50,434.06 L89.00,433.31 L90.50,432.57 L92.00,431.86 L93.50,431.17 L95.00,430.49 L96.50,429.83 L98.00,429.17 L99.50,428.53 L101.00,427.88 L102.50,427.24 L104.00,426.60 L105.50,425.95 L107.00,425.29 L108.50,424.62 L110.00,423.94 L111.50,423.24 L113.00,422.51 L114.50,421.77 L116.00,421.00 L117.50,420.21 L119.00,419.41 L120.50,418.60 L122.00,417.80 L123.50,416.99 L125.00,416.20 L126.50,415.43 L128.00,414.67 L129.50,413.95 L131.00,413.26 L132.50,412.61 L134.00,412.00 L135.50,411.44 L137.00,410.92 L138.50,410.43 L140.00,409.98 L141.50,409.55 L143.00,409.14 L144.50,408.75 L146.00,408.38 L147.50,408.01 L149.00,407.64 L150.50,407.27 L152.00,406.90 L153.50,406.51 L155.00,406.11 L156.50,405.69 L158.00,405.24 L159.50,404.76 L161.00,404.25 L162.50,403.70 L164.00,403.11 L165.50,402.47 L167.00,401.77 L168.50,401.02 L170.00,400.20 L171.50,399.32 L173.00,398.37 L174.50,397.34 L176.00,396.24 L177.50,395.06 L179.00,393.81 L180.50,392.50 L182.00,391.13 L183.50,389.71 L185.00,388.23 L186.50,386.71 L188.00,385.13 L189.50,383.52 L191.00,381.88 L192.50,380.20 L194.00,378.51 L195.50,376.82 L197.00,375.15 L198.50,373.52 L200.00,371.94 L201.50,370.43 L203.00,369.01 L204.50,367.69 L206.00,366.50 L207.50,365.44 L209.00,364.54 L210.50,363.81 L212.00,363.24 L213.50,362.84 L215.00,362.60 L216.50,362.54 L218.00,362.64 L219.50,362.91 L221.00,363.35 L222.50,363.96 L224.00,364.73 L225.50,365.68 L227.00,366.79 L228.50,368.08 L230.00,369.53 L231.50,371.13 L233.00,372.87 L234.50,374.74 L236.00,376.73 L237.50,378.82 L239.00,381.01 L240.50,383.28 L242.00,385.61 L243.50,388.00 L245.00,390.43 L246.50,392.88 L248.00,395.34 L249.50,397.80 L251.00,400.24 L252.50,402.67 L254.00,405.09 L255.50,407.53 L257.00,410.01 L258.50,412.55 L260.00,415.15 L261.50,417.84 L263.00,420.60 L264.50,423.26 L266.00,425.48 L267.50,427.34 L269.00,429.09 L270.50,430.89 L272.00,432.69 L273.50,434.41 L275.00,435.97 L276.50,437.39 L278.00,438.66 L279.50,439.80 L281.00,440.83 L282.50,441.76 L284.00,442.59 L285.50,443.34 L287.00,443.99 L288.50,444.57 L290.00,445.08 L291.50,445.52 L293.00,445.91 L294.50,446.23 L296.00,446.51 L297.50,446.74 L299.00,446.93 L300.50,447.09 L302.00,447.22 L303.50,447.33 L305.00,447.43 L306.50,447.52 L308.00,447.60 L309.50,447.68 L311.00,447.77 L312.50,447.87 L314.00,447.99 L314.00,448.80 Z"/></clipPath>
<clipPath id="B_bc"><path d="M45.50,448.80 L45.50,434.06 L47.00,433.05 L48.50,432.02 L50.00,430.98 L51.50,429.94 L53.00,428.89 L54.50,427.83 L56.00,426.77 L57.50,425.71 L59.00,424.64 L60.50,423.57 L62.00,422.50 L63.50,421.42 L65.00,420.35 L66.50,419.28 L68.00,418.21 L69.50,417.15 L71.00,416.09 L72.50,415.03 L74.00,413.98 L75.50,412.94 L77.00,411.91 L78.50,410.88 L80.00,409.87 L81.50,408.86 L83.00,407.87 L84.50,406.88 L86.00,405.92 L87.50,404.96 L89.00,404.02 L90.50,403.10 L92.00,402.19 L93.50,401.31 L95.00,400.44 L96.50,399.59 L98.00,398.76 L99.50,397.95 L101.00,397.16 L102.50,396.40 L104.00,395.67 L105.50,394.95 L107.00,394.27 L108.50,393.61 L110.00,392.98 L111.50,392.37 L113.00,391.80 L114.50,391.26 L116.00,390.75 L117.50,390.27 L119.00,389.83 L120.50,389.42 L122.00,389.04 L123.50,388.70 L125.00,388.38 L126.50,388.11 L128.00,387.86 L129.50,387.64 L131.00,387.45 L132.50,387.29 L134.00,387.17 L135.50,387.07 L137.00,386.99 L138.50,386.95 L140.00,386.93 L141.50,386.94 L143.00,386.97 L144.50,387.03 L146.00,387.12 L147.50,387.23 L149.00,387.36 L150.50,387.51 L152.00,387.69 L153.50,387.89 L155.00,388.11 L156.50,388.35 L158.00,388.61 L159.50,388.89 L161.00,389.19 L162.50,389.51 L164.00,389.85 L165.50,390.20 L167.00,390.58 L168.50,390.98 L170.00,391.40 L171.50,391.85 L173.00,392.33 L174.50,392.83 L176.00,393.37 L177.50,393.94 L179.00,394.54 L180.50,395.17 L182.00,395.85 L183.50,396.56 L185.00,397.31 L186.50,398.10 L188.00,398.93 L189.50,399.79 L191.00,400.69 L192.50,401.61 L194.00,402.57 L195.50,403.54 L197.00,404.54 L198.50,405.56 L200.00,406.60 L201.50,407.65 L203.00,408.72 L204.50,409.79 L206.00,410.87 L207.50,411.96 L209.00,413.05 L210.50,414.13 L212.00,415.22 L213.50,416.30 L215.00,417.37 L216.50,418.42 L218.00,419.47 L219.50,420.51 L221.00,421.53 L222.50,422.53 L224.00,423.52 L225.50,424.49 L227.00,425.45 L228.50,426.39 L230.00,427.30 L231.50,428.20 L233.00,429.08 L234.50,429.94 L236.00,430.78 L237.50,431.59 L239.00,432.38 L240.50,433.14 L242.00,433.89 L243.50,434.60 L245.00,435.29 L246.50,435.95 L248.00,436.58 L249.50,437.18 L251.00,437.76 L252.50,438.30 L254.00,438.81 L255.50,439.30 L257.00,439.76 L258.50,440.20 L260.00,440.62 L261.50,441.01 L263.00,441.38 L264.50,441.74 L266.00,442.08 L267.50,442.40 L269.00,442.71 L270.50,443.01 L272.00,443.29 L273.50,443.57 L275.00,443.83 L276.50,444.09 L278.00,444.34 L279.50,444.58 L281.00,444.82 L282.50,445.05 L284.00,445.27 L285.50,445.48 L287.00,445.69 L288.50,445.89 L290.00,446.08 L291.50,446.27 L293.00,446.45 L294.50,446.63 L296.00,446.80 L297.50,446.96 L299.00,447.12 L300.50,447.27 L302.00,447.42 L303.50,447.57 L305.00,447.71 L306.50,447.85 L308.00,447.98 L309.50,448.11 L311.00,448.23 L312.50,448.35 L314.00,448.47 L314.00,448.80 Z"/></clipPath>
<path d="M45.50,448.80 L45.50,447.38 L47.00,447.64 L48.50,447.82 L50.00,447.92 L51.50,447.93 L53.00,447.87 L54.50,447.73 L56.00,447.53 L57.50,447.26 L59.00,446.93 L60.50,446.54 L62.00,446.09 L63.50,445.60 L65.00,445.06 L66.50,444.48 L68.00,443.86 L69.50,443.20 L71.00,442.52 L72.50,441.81 L74.00,441.07 L75.50,440.32 L77.00,439.55 L78.50,438.77 L80.00,437.98 L81.50,437.19 L83.00,436.40 L84.50,435.61 L86.00,434.83 L87.50,434.06 L89.00,433.31 L90.50,432.57 L92.00,431.86 L93.50,431.17 L95.00,430.49 L96.50,429.83 L98.00,429.17 L99.50,428.53 L101.00,427.88 L102.50,427.24 L104.00,426.60 L105.50,425.95 L107.00,425.29 L108.50,424.62 L110.00,423.94 L111.50,423.24 L113.00,422.51 L114.50,421.77 L116.00,421.00 L117.50,420.21 L119.00,419.41 L120.50,418.60 L122.00,417.80 L123.50,416.99 L125.00,416.20 L126.50,415.43 L128.00,414.67 L129.50,413.95 L131.00,413.26 L132.50,412.61 L134.00,412.00 L135.50,411.44 L137.00,410.92 L138.50,410.43 L140.00,409.98 L141.50,409.55 L143.00,409.14 L144.50,408.75 L146.00,408.38 L147.50,408.01 L149.00,407.64 L150.50,407.27 L152.00,406.90 L153.50,406.51 L155.00,406.11 L156.50,405.69 L158.00,405.24 L159.50,404.76 L161.00,404.25 L162.50,403.70 L164.00,403.11 L165.50,402.47 L167.00,401.77 L168.50,401.02 L170.00,400.20 L171.50,399.32 L173.00,398.37 L174.50,397.34 L176.00,396.24 L177.50,395.06 L179.00,393.81 L180.50,392.50 L182.00,391.13 L183.50,389.71 L185.00,388.23 L186.50,386.71 L188.00,385.13 L189.50,383.52 L191.00,381.88 L192.50,380.20 L194.00,378.51 L195.50,376.82 L197.00,375.15 L198.50,373.52 L200.00,371.94 L201.50,370.43 L203.00,369.01 L204.50,367.69 L206.00,366.50 L207.50,365.44 L209.00,364.54 L210.50,363.81 L212.00,363.24 L213.50,362.84 L215.00,362.60 L216.50,362.54 L218.00,362.64 L219.50,362.91 L221.00,363.35 L222.50,363.96 L224.00,364.73 L225.50,365.68 L227.00,366.79 L228.50,368.08 L230.00,369.53 L231.50,371.13 L233.00,372.87 L234.50,374.74 L236.00,376.73 L237.50,378.82 L239.00,381.01 L240.50,383.28 L242.00,385.61 L243.50,388.00 L245.00,390.43 L246.50,392.88 L248.00,395.34 L249.50,397.80 L251.00,400.24 L252.50,402.67 L254.00,405.09 L255.50,407.53 L257.00,410.01 L258.50,412.55 L260.00,415.15 L261.50,417.84 L263.00,420.60 L264.50,423.26 L266.00,425.48 L267.50,427.34 L269.00,429.09 L270.50,430.89 L272.00,432.69 L273.50,434.41 L275.00,435.97 L276.50,437.39 L278.00,438.66 L279.50,439.80 L281.00,440.83 L282.50,441.76 L284.00,442.59 L285.50,443.34 L287.00,443.99 L288.50,444.57 L290.00,445.08 L291.50,445.52 L293.00,445.91 L294.50,446.23 L296.00,446.51 L297.50,446.74 L299.00,446.93 L300.50,447.09 L302.00,447.22 L303.50,447.33 L305.00,447.43 L306.50,447.52 L308.00,447.60 L309.50,447.68 L311.00,447.77 L312.50,447.87 L314.00,447.99 L314.00,448.80 Z" fill="#f6cfbe" stroke="#000" stroke-width="2.2" stroke-linejoin="round"/>
<path d="M45.50,448.80 L45.50,434.06 L47.00,433.05 L48.50,432.02 L50.00,430.98 L51.50,429.94 L53.00,428.89 L54.50,427.83 L56.00,426.77 L57.50,425.71 L59.00,424.64 L60.50,423.57 L62.00,422.50 L63.50,421.42 L65.00,420.35 L66.50,419.28 L68.00,418.21 L69.50,417.15 L71.00,416.09 L72.50,415.03 L74.00,413.98 L75.50,412.94 L77.00,411.91 L78.50,410.88 L80.00,409.87 L81.50,408.86 L83.00,407.87 L84.50,406.88 L86.00,405.92 L87.50,404.96 L89.00,404.02 L90.50,403.10 L92.00,402.19 L93.50,401.31 L95.00,400.44 L96.50,399.59 L98.00,398.76 L99.50,397.95 L101.00,397.16 L102.50,396.40 L104.00,395.67 L105.50,394.95 L107.00,394.27 L108.50,393.61 L110.00,392.98 L111.50,392.37 L113.00,391.80 L114.50,391.26 L116.00,390.75 L117.50,390.27 L119.00,389.83 L120.50,389.42 L122.00,389.04 L123.50,388.70 L125.00,388.38 L126.50,388.11 L128.00,387.86 L129.50,387.64 L131.00,387.45 L132.50,387.29 L134.00,387.17 L135.50,387.07 L137.00,386.99 L138.50,386.95 L140.00,386.93 L141.50,386.94 L143.00,386.97 L144.50,387.03 L146.00,387.12 L147.50,387.23 L149.00,387.36 L150.50,387.51 L152.00,387.69 L153.50,387.89 L155.00,388.11 L156.50,388.35 L158.00,388.61 L159.50,388.89 L161.00,389.19 L162.50,389.51 L164.00,389.85 L165.50,390.20 L167.00,390.58 L168.50,390.98 L170.00,391.40 L171.50,391.85 L173.00,392.33 L174.50,392.83 L176.00,393.37 L177.50,393.94 L179.00,394.54 L180.50,395.17 L182.00,395.85 L183.50,396.56 L185.00,397.31 L186.50,398.10 L188.00,398.93 L189.50,399.79 L191.00,400.69 L192.50,401.61 L194.00,402.57 L195.50,403.54 L197.00,404.54 L198.50,405.56 L200.00,406.60 L201.50,407.65 L203.00,408.72 L204.50,409.79 L206.00,410.87 L207.50,411.96 L209.00,413.05 L210.50,414.13 L212.00,415.22 L213.50,416.30 L215.00,417.37 L216.50,418.42 L218.00,419.47 L219.50,420.51 L221.00,421.53 L222.50,422.53 L224.00,423.52 L225.50,424.49 L227.00,425.45 L228.50,426.39 L230.00,427.30 L231.50,428.20 L233.00,429.08 L234.50,429.94 L236.00,430.78 L237.50,431.59 L239.00,432.38 L240.50,433.14 L242.00,433.89 L243.50,434.60 L245.00,435.29 L246.50,435.95 L248.00,436.58 L249.50,437.18 L251.00,437.76 L252.50,438.30 L254.00,438.81 L255.50,439.30 L257.00,439.76 L258.50,440.20 L260.00,440.62 L261.50,441.01 L263.00,441.38 L264.50,441.74 L266.00,442.08 L267.50,442.40 L269.00,442.71 L270.50,443.01 L272.00,443.29 L273.50,443.57 L275.00,443.83 L276.50,444.09 L278.00,444.34 L279.50,444.58 L281.00,444.82 L282.50,445.05 L284.00,445.27 L285.50,445.48 L287.00,445.69 L288.50,445.89 L290.00,446.08 L291.50,446.27 L293.00,446.45 L294.50,446.63 L296.00,446.80 L297.50,446.96 L299.00,447.12 L300.50,447.27 L302.00,447.42 L303.50,447.57 L305.00,447.71 L306.50,447.85 L308.00,447.98 L309.50,448.11 L311.00,448.23 L312.50,448.35 L314.00,448.47 L314.00,448.80 Z" fill="#72afcf"/>
<path d="M45.50,448.80 L45.50,434.06 L47.00,433.05 L48.50,432.02 L50.00,430.98 L51.50,429.94 L53.00,428.89 L54.50,427.83 L56.00,426.77 L57.50,425.71 L59.00,424.64 L60.50,423.57 L62.00,422.50 L63.50,421.42 L65.00,420.35 L66.50,419.28 L68.00,418.21 L69.50,417.15 L71.00,416.09 L72.50,415.03 L74.00,413.98 L75.50,412.94 L77.00,411.91 L78.50,410.88 L80.00,409.87 L81.50,408.86 L83.00,407.87 L84.50,406.88 L86.00,405.92 L87.50,404.96 L89.00,404.02 L90.50,403.10 L92.00,402.19 L93.50,401.31 L95.00,400.44 L96.50,399.59 L98.00,398.76 L99.50,397.95 L101.00,397.16 L102.50,396.40 L104.00,395.67 L105.50,394.95 L107.00,394.27 L108.50,393.61 L110.00,392.98 L111.50,392.37 L113.00,391.80 L114.50,391.26 L116.00,390.75 L117.50,390.27 L119.00,389.83 L120.50,389.42 L122.00,389.04 L123.50,388.70 L125.00,388.38 L126.50,388.11 L128.00,387.86 L129.50,387.64 L131.00,387.45 L132.50,387.29 L134.00,387.17 L135.50,387.07 L137.00,386.99 L138.50,386.95 L140.00,386.93 L141.50,386.94 L143.00,386.97 L144.50,387.03 L146.00,387.12 L147.50,387.23 L149.00,387.36 L150.50,387.51 L152.00,387.69 L153.50,387.89 L155.00,388.11 L156.50,388.35 L158.00,388.61 L159.50,388.89 L161.00,389.19 L162.50,389.51 L164.00,389.85 L165.50,390.20 L167.00,390.58 L168.50,390.98 L170.00,391.40 L171.50,391.85 L173.00,392.33 L174.50,392.83 L176.00,393.37 L177.50,393.94 L179.00,394.54 L180.50,395.17 L182.00,395.85 L183.50,396.56 L185.00,397.31 L186.50,398.10 L188.00,398.93 L189.50,399.79 L191.00,400.69 L192.50,401.61 L194.00,402.57 L195.50,403.54 L197.00,404.54 L198.50,405.56 L200.00,406.60 L201.50,407.65 L203.00,408.72 L204.50,409.79 L206.00,410.87 L207.50,411.96 L209.00,413.05 L210.50,414.13 L212.00,415.22 L213.50,416.30 L215.00,417.37 L216.50,418.42 L218.00,419.47 L219.50,420.51 L221.00,421.53 L222.50,422.53 L224.00,423.52 L225.50,424.49 L227.00,425.45 L228.50,426.39 L230.00,427.30 L231.50,428.20 L233.00,429.08 L234.50,429.94 L236.00,430.78 L237.50,431.59 L239.00,432.38 L240.50,433.14 L242.00,433.89 L243.50,434.60 L245.00,435.29 L246.50,435.95 L248.00,436.58 L249.50,437.18 L251.00,437.76 L252.50,438.30 L254.00,438.81 L255.50,439.30 L257.00,439.76 L258.50,440.20 L260.00,440.62 L261.50,441.01 L263.00,441.38 L264.50,441.74 L266.00,442.08 L267.50,442.40 L269.00,442.71 L270.50,443.01 L272.00,443.29 L273.50,443.57 L275.00,443.83 L276.50,444.09 L278.00,444.34 L279.50,444.58 L281.00,444.82 L282.50,445.05 L284.00,445.27 L285.50,445.48 L287.00,445.69 L288.50,445.89 L290.00,446.08 L291.50,446.27 L293.00,446.45 L294.50,446.63 L296.00,446.80 L297.50,446.96 L299.00,447.12 L300.50,447.27 L302.00,447.42 L303.50,447.57 L305.00,447.71 L306.50,447.85 L308.00,447.98 L309.50,448.11 L311.00,448.23 L312.50,448.35 L314.00,448.47 L314.00,448.80 Z" fill="#7596af" clip-path="url(#B_oc)"/>
<path d="M45.50,448.80 L45.50,447.38 L47.00,447.64 L48.50,447.82 L50.00,447.92 L51.50,447.93 L53.00,447.87 L54.50,447.73 L56.00,447.53 L57.50,447.26 L59.00,446.93 L60.50,446.54 L62.00,446.09 L63.50,445.60 L65.00,445.06 L66.50,444.48 L68.00,443.86 L69.50,443.20 L71.00,442.52 L72.50,441.81 L74.00,441.07 L75.50,440.32 L77.00,439.55 L78.50,438.77 L80.00,437.98 L81.50,437.19 L83.00,436.40 L84.50,435.61 L86.00,434.83 L87.50,434.06 L89.00,433.31 L90.50,432.57 L92.00,431.86 L93.50,431.17 L95.00,430.49 L96.50,429.83 L98.00,429.17 L99.50,428.53 L101.00,427.88 L102.50,427.24 L104.00,426.60 L105.50,425.95 L107.00,425.29 L108.50,424.62 L110.00,423.94 L111.50,423.24 L113.00,422.51 L114.50,421.77 L116.00,421.00 L117.50,420.21 L119.00,419.41 L120.50,418.60 L122.00,417.80 L123.50,416.99 L125.00,416.20 L126.50,415.43 L128.00,414.67 L129.50,413.95 L131.00,413.26 L132.50,412.61 L134.00,412.00 L135.50,411.44 L137.00,410.92 L138.50,410.43 L140.00,409.98 L141.50,409.55 L143.00,409.14 L144.50,408.75 L146.00,408.38 L147.50,408.01 L149.00,407.64 L150.50,407.27 L152.00,406.90 L153.50,406.51 L155.00,406.11 L156.50,405.69 L158.00,405.24 L159.50,404.76 L161.00,404.25 L162.50,403.70 L164.00,403.11 L165.50,402.47 L167.00,401.77 L168.50,401.02 L170.00,400.20 L171.50,399.32 L173.00,398.37 L174.50,397.34 L176.00,396.24 L177.50,395.06 L179.00,393.81 L180.50,392.50 L182.00,391.13 L183.50,389.71 L185.00,388.23 L186.50,386.71 L188.00,385.13 L189.50,383.52 L191.00,381.88 L192.50,380.20 L194.00,378.51 L195.50,376.82 L197.00,375.15 L198.50,373.52 L200.00,371.94 L201.50,370.43 L203.00,369.01 L204.50,367.69 L206.00,366.50 L207.50,365.44 L209.00,364.54 L210.50,363.81 L212.00,363.24 L213.50,362.84 L215.00,362.60 L216.50,362.54 L218.00,362.64 L219.50,362.91 L221.00,363.35 L222.50,363.96 L224.00,364.73 L225.50,365.68 L227.00,366.79 L228.50,368.08 L230.00,369.53 L231.50,371.13 L233.00,372.87 L234.50,374.74 L236.00,376.73 L237.50,378.82 L239.00,381.01 L240.50,383.28 L242.00,385.61 L243.50,388.00 L245.00,390.43 L246.50,392.88 L248.00,395.34 L249.50,397.80 L251.00,400.24 L252.50,402.67 L254.00,405.09 L255.50,407.53 L257.00,410.01 L258.50,412.55 L260.00,415.15 L261.50,417.84 L263.00,420.60 L264.50,423.26 L266.00,425.48 L267.50,427.34 L269.00,429.09 L270.50,430.89 L272.00,432.69 L273.50,434.41 L275.00,435.97 L276.50,437.39 L278.00,438.66 L279.50,439.80 L281.00,440.83 L282.50,441.76 L284.00,442.59 L285.50,443.34 L287.00,443.99 L288.50,444.57 L290.00,445.08 L291.50,445.52 L293.00,445.91 L294.50,446.23 L296.00,446.51 L297.50,446.74 L299.00,446.93 L300.50,447.09 L302.00,447.22 L303.50,447.33 L305.00,447.43 L306.50,447.52 L308.00,447.60 L309.50,447.68 L311.00,447.77 L312.50,447.87 L314.00,447.99" fill="none" stroke="#0d2a45" stroke-width="2.2" clip-path="url(#B_bc)"/>
<path d="M45.50,448.80 L45.50,434.06 L47.00,433.05 L48.50,432.02 L50.00,430.98 L51.50,429.94 L53.00,428.89 L54.50,427.83 L56.00,426.77 L57.50,425.71 L59.00,424.64 L60.50,423.57 L62.00,422.50 L63.50,421.42 L65.00,420.35 L66.50,419.28 L68.00,418.21 L69.50,417.15 L71.00,416.09 L72.50,415.03 L74.00,413.98 L75.50,412.94 L77.00,411.91 L78.50,410.88 L80.00,409.87 L81.50,408.86 L83.00,407.87 L84.50,406.88 L86.00,405.92 L87.50,404.96 L89.00,404.02 L90.50,403.10 L92.00,402.19 L93.50,401.31 L95.00,400.44 L96.50,399.59 L98.00,398.76 L99.50,397.95 L101.00,397.16 L102.50,396.40 L104.00,395.67 L105.50,394.95 L107.00,394.27 L108.50,393.61 L110.00,392.98 L111.50,392.37 L113.00,391.80 L114.50,391.26 L116.00,390.75 L117.50,390.27 L119.00,389.83 L120.50,389.42 L122.00,389.04 L123.50,388.70 L125.00,388.38 L126.50,388.11 L128.00,387.86 L129.50,387.64 L131.00,387.45 L132.50,387.29 L134.00,387.17 L135.50,387.07 L137.00,386.99 L138.50,386.95 L140.00,386.93 L141.50,386.94 L143.00,386.97 L144.50,387.03 L146.00,387.12 L147.50,387.23 L149.00,387.36 L150.50,387.51 L152.00,387.69 L153.50,387.89 L155.00,388.11 L156.50,388.35 L158.00,388.61 L159.50,388.89 L161.00,389.19 L162.50,389.51 L164.00,389.85 L165.50,390.20 L167.00,390.58 L168.50,390.98 L170.00,391.40 L171.50,391.85 L173.00,392.33 L174.50,392.83 L176.00,393.37 L177.50,393.94 L179.00,394.54 L180.50,395.17 L182.00,395.85 L183.50,396.56 L185.00,397.31 L186.50,398.10 L188.00,398.93 L189.50,399.79 L191.00,400.69 L192.50,401.61 L194.00,402.57 L195.50,403.54 L197.00,404.54 L198.50,405.56 L200.00,406.60 L201.50,407.65 L203.00,408.72 L204.50,409.79 L206.00,410.87 L207.50,411.96 L209.00,413.05 L210.50,414.13 L212.00,415.22 L213.50,416.30 L215.00,417.37 L216.50,418.42 L218.00,419.47 L219.50,420.51 L221.00,421.53 L222.50,422.53 L224.00,423.52 L225.50,424.49 L227.00,425.45 L228.50,426.39 L230.00,427.30 L231.50,428.20 L233.00,429.08 L234.50,429.94 L236.00,430.78 L237.50,431.59 L239.00,432.38 L240.50,433.14 L242.00,433.89 L243.50,434.60 L245.00,435.29 L246.50,435.95 L248.00,436.58 L249.50,437.18 L251.00,437.76 L252.50,438.30 L254.00,438.81 L255.50,439.30 L257.00,439.76 L258.50,440.20 L260.00,440.62 L261.50,441.01 L263.00,441.38 L264.50,441.74 L266.00,442.08 L267.50,442.40 L269.00,442.71 L270.50,443.01 L272.00,443.29 L273.50,443.57 L275.00,443.83 L276.50,444.09 L278.00,444.34 L279.50,444.58 L281.00,444.82 L282.50,445.05 L284.00,445.27 L285.50,445.48 L287.00,445.69 L288.50,445.89 L290.00,446.08 L291.50,446.27 L293.00,446.45 L294.50,446.63 L296.00,446.80 L297.50,446.96 L299.00,447.12 L300.50,447.27 L302.00,447.42 L303.50,447.57 L305.00,447.71 L306.50,447.85 L308.00,447.98 L309.50,448.11 L311.00,448.23 L312.50,448.35 L314.00,448.47 L314.00,448.80 Z" fill="none" stroke="#000" stroke-width="2.2" stroke-linejoin="round"/></g>
<g clip-path="url(#clC)"><clipPath id="C_oc"><path d="M400.70,448.80 L400.70,345.75 L402.20,345.94 L403.70,348.26 L405.20,352.25 L406.70,357.49 L408.20,363.52 L409.70,369.89 L411.20,376.17 L412.70,381.98 L414.20,386.98 L415.70,390.86 L417.20,393.78 L418.70,396.32 L420.20,398.79 L421.70,401.26 L423.20,403.75 L424.70,406.33 L426.20,409.01 L427.70,411.86 L429.20,414.91 L430.70,418.13 L432.20,421.40 L433.70,424.56 L435.20,427.50 L436.70,430.05 L438.20,432.12 L439.70,433.72 L441.20,434.91 L442.70,435.77 L444.20,436.35 L445.70,436.72 L447.20,436.94 L448.70,437.07 L450.20,437.18 L451.70,437.28 L453.20,437.33 L454.70,437.34 L456.20,437.27 L457.70,437.12 L459.20,436.86 L460.70,436.47 L462.20,435.95 L463.70,435.27 L465.20,434.42 L466.70,433.42 L468.20,432.38 L469.70,431.37 L471.20,430.49 L472.70,429.77 L474.20,429.27 L475.70,429.01 L477.20,429.03 L478.70,429.38 L480.20,430.08 L481.70,431.15 L483.20,432.54 L484.70,434.13 L486.20,435.83 L487.70,437.54 L489.20,439.15 L490.70,440.56 L492.20,441.70 L493.70,442.57 L495.20,443.19 L496.70,443.60 L498.20,443.81 L499.70,443.86 L501.20,443.78 L502.70,443.58 L504.20,443.29 L505.70,442.95 L507.20,442.58 L508.70,442.18 L510.20,441.77 L511.70,441.35 L513.20,440.91 L514.70,440.48 L516.20,440.05 L517.70,439.64 L519.20,439.23 L520.70,438.85 L522.20,438.49 L523.70,438.16 L525.20,437.87 L526.70,437.61 L528.20,437.40 L529.70,437.25 L531.20,437.15 L532.70,437.11 L534.20,437.13 L535.70,437.23 L537.20,437.41 L538.70,437.66 L540.20,438.01 L541.70,438.42 L543.20,438.90 L544.70,439.44 L546.20,440.03 L547.70,440.66 L549.20,441.33 L550.70,442.01 L552.20,442.71 L553.70,443.41 L555.20,444.11 L556.70,444.79 L558.20,445.46 L559.70,446.09 L561.20,446.68 L562.70,447.23 L564.20,447.72 L565.70,448.14 L567.20,448.49 L568.70,448.75 L570.20,448.80 L571.70,448.80 L573.20,448.80 L574.70,448.80 L575.00,448.80 L575.00,448.80 Z"/></clipPath>
<clipPath id="C_bc"><path d="M400.70,448.80 L400.70,430.48 L402.20,429.45 L403.70,428.46 L405.20,427.50 L406.70,426.59 L408.20,425.71 L409.70,424.87 L411.20,424.06 L412.70,423.29 L414.20,422.56 L415.70,421.86 L417.20,421.19 L418.70,420.56 L420.20,419.97 L421.70,419.40 L423.20,418.87 L424.70,418.37 L426.20,417.90 L427.70,417.46 L429.20,417.06 L430.70,416.68 L432.20,416.33 L433.70,416.01 L435.20,415.72 L436.70,415.46 L438.20,415.22 L439.70,415.02 L441.20,414.83 L442.70,414.68 L444.20,414.55 L445.70,414.44 L447.20,414.36 L448.70,414.30 L450.20,414.27 L451.70,414.26 L453.20,414.27 L454.70,414.31 L456.20,414.36 L457.70,414.44 L459.20,414.54 L460.70,414.65 L462.20,414.79 L463.70,414.95 L465.20,415.12 L466.70,415.31 L468.20,415.52 L469.70,415.75 L471.20,415.99 L472.70,416.25 L474.20,416.52 L475.70,416.81 L477.20,417.12 L478.70,417.44 L480.20,417.77 L481.70,418.11 L483.20,418.47 L484.70,418.84 L486.20,419.22 L487.70,419.61 L489.20,420.01 L490.70,420.42 L492.20,420.85 L493.70,421.28 L495.20,421.72 L496.70,422.16 L498.20,422.62 L499.70,423.08 L501.20,423.55 L502.70,424.03 L504.20,424.51 L505.70,424.99 L507.20,425.48 L508.70,425.98 L510.20,426.47 L511.70,426.98 L513.20,427.48 L514.70,427.99 L516.20,428.50 L517.70,429.01 L519.20,429.52 L520.70,430.03 L522.20,430.54 L523.70,431.05 L525.20,431.56 L526.70,432.07 L528.20,432.58 L529.70,433.09 L531.20,433.59 L532.70,434.09 L534.20,434.59 L535.70,435.08 L537.20,435.57 L538.70,436.05 L540.20,436.53 L541.70,437.00 L543.20,437.47 L544.70,437.93 L546.20,438.38 L547.70,438.82 L549.20,439.26 L550.70,439.69 L552.20,440.11 L553.70,440.51 L555.20,440.91 L556.70,441.30 L558.20,441.68 L559.70,442.05 L561.20,442.40 L562.70,442.74 L564.20,443.08 L565.70,443.39 L567.20,443.70 L568.70,444.00 L570.20,444.28 L571.70,444.56 L573.20,444.82 L574.70,445.07 L576.20,445.32 L577.70,445.55 L579.20,445.77 L580.70,445.98 L582.20,446.18 L583.70,446.38 L585.20,446.56 L586.70,446.73 L588.20,446.90 L589.70,447.06 L591.20,447.20 L592.70,447.34 L594.20,447.48 L595.70,447.60 L597.20,447.71 L598.70,447.82 L600.20,447.92 L601.70,448.02 L603.20,448.10 L604.70,448.18 L606.20,448.25 L607.70,448.32 L609.20,448.38 L610.70,448.43 L612.20,448.48 L613.70,448.52 L615.20,448.55 L616.70,448.58 L618.20,448.61 L619.70,448.63 L621.20,448.64 L622.70,448.65 L624.20,448.66 L625.70,448.66 L627.20,448.66 L628.70,448.66 L630.20,448.66 L631.70,448.66 L633.20,448.66 L634.70,448.66 L636.20,448.66 L637.70,448.66 L639.20,448.66 L640.70,448.66 L642.20,448.66 L643.70,448.66 L645.20,448.66 L646.70,448.66 L648.20,448.66 L649.70,448.66 L650.70,448.66 L650.70,448.80 Z"/></clipPath>
<path d="M400.70,448.80 L400.70,345.75 L402.20,345.94 L403.70,348.26 L405.20,352.25 L406.70,357.49 L408.20,363.52 L409.70,369.89 L411.20,376.17 L412.70,381.98 L414.20,386.98 L415.70,390.86 L417.20,393.78 L418.70,396.32 L420.20,398.79 L421.70,401.26 L423.20,403.75 L424.70,406.33 L426.20,409.01 L427.70,411.86 L429.20,414.91 L430.70,418.13 L432.20,421.40 L433.70,424.56 L435.20,427.50 L436.70,430.05 L438.20,432.12 L439.70,433.72 L441.20,434.91 L442.70,435.77 L444.20,436.35 L445.70,436.72 L447.20,436.94 L448.70,437.07 L450.20,437.18 L451.70,437.28 L453.20,437.33 L454.70,437.34 L456.20,437.27 L457.70,437.12 L459.20,436.86 L460.70,436.47 L462.20,435.95 L463.70,435.27 L465.20,434.42 L466.70,433.42 L468.20,432.38 L469.70,431.37 L471.20,430.49 L472.70,429.77 L474.20,429.27 L475.70,429.01 L477.20,429.03 L478.70,429.38 L480.20,430.08 L481.70,431.15 L483.20,432.54 L484.70,434.13 L486.20,435.83 L487.70,437.54 L489.20,439.15 L490.70,440.56 L492.20,441.70 L493.70,442.57 L495.20,443.19 L496.70,443.60 L498.20,443.81 L499.70,443.86 L501.20,443.78 L502.70,443.58 L504.20,443.29 L505.70,442.95 L507.20,442.58 L508.70,442.18 L510.20,441.77 L511.70,441.35 L513.20,440.91 L514.70,440.48 L516.20,440.05 L517.70,439.64 L519.20,439.23 L520.70,438.85 L522.20,438.49 L523.70,438.16 L525.20,437.87 L526.70,437.61 L528.20,437.40 L529.70,437.25 L531.20,437.15 L532.70,437.11 L534.20,437.13 L535.70,437.23 L537.20,437.41 L538.70,437.66 L540.20,438.01 L541.70,438.42 L543.20,438.90 L544.70,439.44 L546.20,440.03 L547.70,440.66 L549.20,441.33 L550.70,442.01 L552.20,442.71 L553.70,443.41 L555.20,444.11 L556.70,444.79 L558.20,445.46 L559.70,446.09 L561.20,446.68 L562.70,447.23 L564.20,447.72 L565.70,448.14 L567.20,448.49 L568.70,448.75 L570.20,448.80 L571.70,448.80 L573.20,448.80 L574.70,448.80 L575.00,448.80 L575.00,448.80 Z" fill="#f6cfbe" stroke="#000" stroke-width="2.2" stroke-linejoin="round"/>
<path d="M400.70,448.80 L400.70,430.48 L402.20,429.45 L403.70,428.46 L405.20,427.50 L406.70,426.59 L408.20,425.71 L409.70,424.87 L411.20,424.06 L412.70,423.29 L414.20,422.56 L415.70,421.86 L417.20,421.19 L418.70,420.56 L420.20,419.97 L421.70,419.40 L423.20,418.87 L424.70,418.37 L426.20,417.90 L427.70,417.46 L429.20,417.06 L430.70,416.68 L432.20,416.33 L433.70,416.01 L435.20,415.72 L436.70,415.46 L438.20,415.22 L439.70,415.02 L441.20,414.83 L442.70,414.68 L444.20,414.55 L445.70,414.44 L447.20,414.36 L448.70,414.30 L450.20,414.27 L451.70,414.26 L453.20,414.27 L454.70,414.31 L456.20,414.36 L457.70,414.44 L459.20,414.54 L460.70,414.65 L462.20,414.79 L463.70,414.95 L465.20,415.12 L466.70,415.31 L468.20,415.52 L469.70,415.75 L471.20,415.99 L472.70,416.25 L474.20,416.52 L475.70,416.81 L477.20,417.12 L478.70,417.44 L480.20,417.77 L481.70,418.11 L483.20,418.47 L484.70,418.84 L486.20,419.22 L487.70,419.61 L489.20,420.01 L490.70,420.42 L492.20,420.85 L493.70,421.28 L495.20,421.72 L496.70,422.16 L498.20,422.62 L499.70,423.08 L501.20,423.55 L502.70,424.03 L504.20,424.51 L505.70,424.99 L507.20,425.48 L508.70,425.98 L510.20,426.47 L511.70,426.98 L513.20,427.48 L514.70,427.99 L516.20,428.50 L517.70,429.01 L519.20,429.52 L520.70,430.03 L522.20,430.54 L523.70,431.05 L525.20,431.56 L526.70,432.07 L528.20,432.58 L529.70,433.09 L531.20,433.59 L532.70,434.09 L534.20,434.59 L535.70,435.08 L537.20,435.57 L538.70,436.05 L540.20,436.53 L541.70,437.00 L543.20,437.47 L544.70,437.93 L546.20,438.38 L547.70,438.82 L549.20,439.26 L550.70,439.69 L552.20,440.11 L553.70,440.51 L555.20,440.91 L556.70,441.30 L558.20,441.68 L559.70,442.05 L561.20,442.40 L562.70,442.74 L564.20,443.08 L565.70,443.39 L567.20,443.70 L568.70,444.00 L570.20,444.28 L571.70,444.56 L573.20,444.82 L574.70,445.07 L576.20,445.32 L577.70,445.55 L579.20,445.77 L580.70,445.98 L582.20,446.18 L583.70,446.38 L585.20,446.56 L586.70,446.73 L588.20,446.90 L589.70,447.06 L591.20,447.20 L592.70,447.34 L594.20,447.48 L595.70,447.60 L597.20,447.71 L598.70,447.82 L600.20,447.92 L601.70,448.02 L603.20,448.10 L604.70,448.18 L606.20,448.25 L607.70,448.32 L609.20,448.38 L610.70,448.43 L612.20,448.48 L613.70,448.52 L615.20,448.55 L616.70,448.58 L618.20,448.61 L619.70,448.63 L621.20,448.64 L622.70,448.65 L624.20,448.66 L625.70,448.66 L627.20,448.66 L628.70,448.66 L630.20,448.66 L631.70,448.66 L633.20,448.66 L634.70,448.66 L636.20,448.66 L637.70,448.66 L639.20,448.66 L640.70,448.66 L642.20,448.66 L643.70,448.66 L645.20,448.66 L646.70,448.66 L648.20,448.66 L649.70,448.66 L650.70,448.66 L650.70,448.80 Z" fill="#72afcf"/>
<path d="M400.70,448.80 L400.70,430.48 L402.20,429.45 L403.70,428.46 L405.20,427.50 L406.70,426.59 L408.20,425.71 L409.70,424.87 L411.20,424.06 L412.70,423.29 L414.20,422.56 L415.70,421.86 L417.20,421.19 L418.70,420.56 L420.20,419.97 L421.70,419.40 L423.20,418.87 L424.70,418.37 L426.20,417.90 L427.70,417.46 L429.20,417.06 L430.70,416.68 L432.20,416.33 L433.70,416.01 L435.20,415.72 L436.70,415.46 L438.20,415.22 L439.70,415.02 L441.20,414.83 L442.70,414.68 L444.20,414.55 L445.70,414.44 L447.20,414.36 L448.70,414.30 L450.20,414.27 L451.70,414.26 L453.20,414.27 L454.70,414.31 L456.20,414.36 L457.70,414.44 L459.20,414.54 L460.70,414.65 L462.20,414.79 L463.70,414.95 L465.20,415.12 L466.70,415.31 L468.20,415.52 L469.70,415.75 L471.20,415.99 L472.70,416.25 L474.20,416.52 L475.70,416.81 L477.20,417.12 L478.70,417.44 L480.20,417.77 L481.70,418.11 L483.20,418.47 L484.70,418.84 L486.20,419.22 L487.70,419.61 L489.20,420.01 L490.70,420.42 L492.20,420.85 L493.70,421.28 L495.20,421.72 L496.70,422.16 L498.20,422.62 L499.70,423.08 L501.20,423.55 L502.70,424.03 L504.20,424.51 L505.70,424.99 L507.20,425.48 L508.70,425.98 L510.20,426.47 L511.70,426.98 L513.20,427.48 L514.70,427.99 L516.20,428.50 L517.70,429.01 L519.20,429.52 L520.70,430.03 L522.20,430.54 L523.70,431.05 L525.20,431.56 L526.70,432.07 L528.20,432.58 L529.70,433.09 L531.20,433.59 L532.70,434.09 L534.20,434.59 L535.70,435.08 L537.20,435.57 L538.70,436.05 L540.20,436.53 L541.70,437.00 L543.20,437.47 L544.70,437.93 L546.20,438.38 L547.70,438.82 L549.20,439.26 L550.70,439.69 L552.20,440.11 L553.70,440.51 L555.20,440.91 L556.70,441.30 L558.20,441.68 L559.70,442.05 L561.20,442.40 L562.70,442.74 L564.20,443.08 L565.70,443.39 L567.20,443.70 L568.70,444.00 L570.20,444.28 L571.70,444.56 L573.20,444.82 L574.70,445.07 L576.20,445.32 L577.70,445.55 L579.20,445.77 L580.70,445.98 L582.20,446.18 L583.70,446.38 L585.20,446.56 L586.70,446.73 L588.20,446.90 L589.70,447.06 L591.20,447.20 L592.70,447.34 L594.20,447.48 L595.70,447.60 L597.20,447.71 L598.70,447.82 L600.20,447.92 L601.70,448.02 L603.20,448.10 L604.70,448.18 L606.20,448.25 L607.70,448.32 L609.20,448.38 L610.70,448.43 L612.20,448.48 L613.70,448.52 L615.20,448.55 L616.70,448.58 L618.20,448.61 L619.70,448.63 L621.20,448.64 L622.70,448.65 L624.20,448.66 L625.70,448.66 L627.20,448.66 L628.70,448.66 L630.20,448.66 L631.70,448.66 L633.20,448.66 L634.70,448.66 L636.20,448.66 L637.70,448.66 L639.20,448.66 L640.70,448.66 L642.20,448.66 L643.70,448.66 L645.20,448.66 L646.70,448.66 L648.20,448.66 L649.70,448.66 L650.70,448.66 L650.70,448.80 Z" fill="#7596af" clip-path="url(#C_oc)"/>
<path d="M400.70,448.80 L400.70,345.75 L402.20,345.94 L403.70,348.26 L405.20,352.25 L406.70,357.49 L408.20,363.52 L409.70,369.89 L411.20,376.17 L412.70,381.98 L414.20,386.98 L415.70,390.86 L417.20,393.78 L418.70,396.32 L420.20,398.79 L421.70,401.26 L423.20,403.75 L424.70,406.33 L426.20,409.01 L427.70,411.86 L429.20,414.91 L430.70,418.13 L432.20,421.40 L433.70,424.56 L435.20,427.50 L436.70,430.05 L438.20,432.12 L439.70,433.72 L441.20,434.91 L442.70,435.77 L444.20,436.35 L445.70,436.72 L447.20,436.94 L448.70,437.07 L450.20,437.18 L451.70,437.28 L453.20,437.33 L454.70,437.34 L456.20,437.27 L457.70,437.12 L459.20,436.86 L460.70,436.47 L462.20,435.95 L463.70,435.27 L465.20,434.42 L466.70,433.42 L468.20,432.38 L469.70,431.37 L471.20,430.49 L472.70,429.77 L474.20,429.27 L475.70,429.01 L477.20,429.03 L478.70,429.38 L480.20,430.08 L481.70,431.15 L483.20,432.54 L484.70,434.13 L486.20,435.83 L487.70,437.54 L489.20,439.15 L490.70,440.56 L492.20,441.70 L493.70,442.57 L495.20,443.19 L496.70,443.60 L498.20,443.81 L499.70,443.86 L501.20,443.78 L502.70,443.58 L504.20,443.29 L505.70,442.95 L507.20,442.58 L508.70,442.18 L510.20,441.77 L511.70,441.35 L513.20,440.91 L514.70,440.48 L516.20,440.05 L517.70,439.64 L519.20,439.23 L520.70,438.85 L522.20,438.49 L523.70,438.16 L525.20,437.87 L526.70,437.61 L528.20,437.40 L529.70,437.25 L531.20,437.15 L532.70,437.11 L534.20,437.13 L535.70,437.23 L537.20,437.41 L538.70,437.66 L540.20,438.01 L541.70,438.42 L543.20,438.90 L544.70,439.44 L546.20,440.03 L547.70,440.66 L549.20,441.33 L550.70,442.01 L552.20,442.71 L553.70,443.41 L555.20,444.11 L556.70,444.79 L558.20,445.46 L559.70,446.09 L561.20,446.68 L562.70,447.23 L564.20,447.72 L565.70,448.14 L567.20,448.49 L568.70,448.75 L570.20,448.80 L571.70,448.80 L573.20,448.80 L574.70,448.80 L575.00,448.80" fill="none" stroke="#0d2a45" stroke-width="2.2" clip-path="url(#C_bc)"/>
<path d="M400.70,448.80 L400.70,430.48 L402.20,429.45 L403.70,428.46 L405.20,427.50 L406.70,426.59 L408.20,425.71 L409.70,424.87 L411.20,424.06 L412.70,423.29 L414.20,422.56 L415.70,421.86 L417.20,421.19 L418.70,420.56 L420.20,419.97 L421.70,419.40 L423.20,418.87 L424.70,418.37 L426.20,417.90 L427.70,417.46 L429.20,417.06 L430.70,416.68 L432.20,416.33 L433.70,416.01 L435.20,415.72 L436.70,415.46 L438.20,415.22 L439.70,415.02 L441.20,414.83 L442.70,414.68 L444.20,414.55 L445.70,414.44 L447.20,414.36 L448.70,414.30 L450.20,414.27 L451.70,414.26 L453.20,414.27 L454.70,414.31 L456.20,414.36 L457.70,414.44 L459.20,414.54 L460.70,414.65 L462.20,414.79 L463.70,414.95 L465.20,415.12 L466.70,415.31 L468.20,415.52 L469.70,415.75 L471.20,415.99 L472.70,416.25 L474.20,416.52 L475.70,416.81 L477.20,417.12 L478.70,417.44 L480.20,417.77 L481.70,418.11 L483.20,418.47 L484.70,418.84 L486.20,419.22 L487.70,419.61 L489.20,420.01 L490.70,420.42 L492.20,420.85 L493.70,421.28 L495.20,421.72 L496.70,422.16 L498.20,422.62 L499.70,423.08 L501.20,423.55 L502.70,424.03 L504.20,424.51 L505.70,424.99 L507.20,425.48 L508.70,425.98 L510.20,426.47 L511.70,426.98 L513.20,427.48 L514.70,427.99 L516.20,428.50 L517.70,429.01 L519.20,429.52 L520.70,430.03 L522.20,430.54 L523.70,431.05 L525.20,431.56 L526.70,432.07 L528.20,432.58 L529.70,433.09 L531.20,433.59 L532.70,434.09 L534.20,434.59 L535.70,435.08 L537.20,435.57 L538.70,436.05 L540.20,436.53 L541.70,437.00 L543.20,437.47 L544.70,437.93 L546.20,438.38 L547.70,438.82 L549.20,439.26 L550.70,439.69 L552.20,440.11 L553.70,440.51 L555.20,440.91 L556.70,441.30 L558.20,441.68 L559.70,442.05 L561.20,442.40 L562.70,442.74 L564.20,443.08 L565.70,443.39 L567.20,443.70 L568.70,444.00 L570.20,444.28 L571.70,444.56 L573.20,444.82 L574.70,445.07 L576.20,445.32 L577.70,445.55 L579.20,445.77 L580.70,445.98 L582.20,446.18 L583.70,446.38 L585.20,446.56 L586.70,446.73 L588.20,446.90 L589.70,447.06 L591.20,447.20 L592.70,447.34 L594.20,447.48 L595.70,447.60 L597.20,447.71 L598.70,447.82 L600.20,447.92 L601.70,448.02 L603.20,448.10 L604.70,448.18 L606.20,448.25 L607.70,448.32 L609.20,448.38 L610.70,448.43 L612.20,448.48 L613.70,448.52 L615.20,448.55 L616.70,448.58 L618.20,448.61 L619.70,448.63 L621.20,448.64 L622.70,448.65 L624.20,448.66 L625.70,448.66 L627.20,448.66 L628.70,448.66 L630.20,448.66 L631.70,448.66 L633.20,448.66 L634.70,448.66 L636.20,448.66 L637.70,448.66 L639.20,448.66 L640.70,448.66 L642.20,448.66 L643.70,448.66 L645.20,448.66 L646.70,448.66 L648.20,448.66 L649.70,448.66 L650.70,448.66 L650.70,448.80 Z" fill="none" stroke="#000" stroke-width="2.2" stroke-linejoin="round"/></g>
<circle cx="76.3" cy="164.6" r="2.90" fill="#2062a8"/>
<circle cx="123.3" cy="162.3" r="2.90" fill="#2062a8"/>
<circle cx="138.9" cy="168.5" r="2.90" fill="#2062a8"/>
<circle cx="146.9" cy="170.4" r="2.90" fill="#2062a8"/>
<circle cx="154.7" cy="168.1" r="2.90" fill="#2062a8"/>
<circle cx="170.5" cy="163.4" r="2.90" fill="#2062a8"/>
<circle cx="177.8" cy="165.8" r="2.90" fill="#2062a8"/>
<circle cx="177.8" cy="171.6" r="2.90" fill="#2062a8"/>
<circle cx="193.8" cy="164.6" r="2.90" fill="#2062a8"/>
<circle cx="201.4" cy="161.7" r="2.90" fill="#2062a8"/>
<circle cx="201.4" cy="168.7" r="2.90" fill="#2062a8"/>
<circle cx="201.4" cy="171.0" r="2.90" fill="#2062a8"/>
<circle cx="209.2" cy="169.3" r="2.90" fill="#2062a8"/>
<circle cx="217.2" cy="161.9" r="2.90" fill="#2062a8"/>
<circle cx="217.2" cy="173.4" r="2.90" fill="#2062a8"/>
<circle cx="225.1" cy="169.0" r="2.90" fill="#2062a8"/>
<circle cx="240.5" cy="160.5" r="2.90" fill="#2062a8"/>
<circle cx="256.0" cy="169.3" r="2.90" fill="#2062a8"/>
<circle cx="256.0" cy="171.0" r="2.90" fill="#2062a8"/>
<circle cx="263.9" cy="170.4" r="2.90" fill="#2062a8"/>
<circle cx="271.7" cy="171.6" r="2.90" fill="#2062a8"/>
<circle cx="279.9" cy="161.4" r="2.90" fill="#2062a8"/>
<circle cx="288.1" cy="172.0" r="2.90" fill="#2062a8"/>
<circle cx="303.3" cy="163.1" r="2.90" fill="#2062a8"/>
<circle cx="303.3" cy="168.1" r="2.90" fill="#2062a8"/>
<circle cx="318.8" cy="161.1" r="2.90" fill="#2062a8"/>
<circle cx="318.8" cy="163.1" r="2.90" fill="#2062a8"/>
<circle cx="342.2" cy="168.1" r="2.90" fill="#2062a8"/>
<circle cx="358.1" cy="165.5" r="2.90" fill="#2062a8"/>
<circle cx="498.7" cy="167.5" r="2.90" fill="#2062a8"/>
<circle cx="60.8" cy="202.6" r="2.90" fill="#f2a07e"/>
<circle cx="68.6" cy="190.6" r="2.90" fill="#f2a07e"/>
<circle cx="76.3" cy="193.6" r="2.90" fill="#f2a07e"/>
<circle cx="92.1" cy="192.3" r="2.90" fill="#f2a07e"/>
<circle cx="99.9" cy="190.3" r="2.90" fill="#f2a07e"/>
<circle cx="99.9" cy="192.6" r="2.90" fill="#f2a07e"/>
<circle cx="107.7" cy="197.9" r="2.90" fill="#f2a07e"/>
<circle cx="115.4" cy="195.9" r="2.90" fill="#f2a07e"/>
<circle cx="122.5" cy="193.8" r="2.90" fill="#f2a07e"/>
<circle cx="122.8" cy="203.1" r="2.90" fill="#f2a07e"/>
<circle cx="131.1" cy="192.3" r="2.90" fill="#f2a07e"/>
<circle cx="131.1" cy="197.3" r="2.90" fill="#f2a07e"/>
<circle cx="138.9" cy="190.9" r="2.90" fill="#f2a07e"/>
<circle cx="146.9" cy="189.7" r="2.90" fill="#f2a07e"/>
<circle cx="154.5" cy="190.0" r="2.90" fill="#f2a07e"/>
<circle cx="155.0" cy="202.0" r="2.90" fill="#f2a07e"/>
<circle cx="162.3" cy="193.8" r="2.90" fill="#f2a07e"/>
<circle cx="162.3" cy="199.6" r="2.90" fill="#f2a07e"/>
<circle cx="170.2" cy="193.4" r="2.90" fill="#f2a07e"/>
<circle cx="178.0" cy="190.3" r="2.90" fill="#f2a07e"/>
<circle cx="178.0" cy="195.8" r="2.90" fill="#f2a07e"/>
<circle cx="193.8" cy="194.3" r="2.90" fill="#f2a07e"/>
<circle cx="201.4" cy="196.1" r="2.90" fill="#f2a07e"/>
<circle cx="201.4" cy="199.0" r="2.90" fill="#f2a07e"/>
<circle cx="209.2" cy="192.3" r="2.90" fill="#f2a07e"/>
<circle cx="209.2" cy="195.0" r="2.90" fill="#f2a07e"/>
<circle cx="217.2" cy="204.3" r="2.90" fill="#f2a07e"/>
<circle cx="263.9" cy="204.3" r="2.90" fill="#f2a07e"/>
<circle cx="318.8" cy="191.8" r="2.90" fill="#f2a07e"/>
<circle cx="349.8" cy="200.8" r="2.90" fill="#f2a07e"/>
<line x1="76.3" y1="166.6" x2="178.0" y2="166.6" stroke="#000" stroke-width="2"/>
<line x1="285.5" y1="166.6" x2="358.1" y2="166.6" stroke="#000" stroke-width="2"/>
<rect x="178.0" y="159.0" width="107.5" height="15.2" fill="none" stroke="#000" stroke-width="2"/>
<line x1="217.2" y1="159.0" x2="217.2" y2="174.2" stroke="#000" stroke-width="2"/>
<line x1="61.0" y1="197.5" x2="123.4" y2="197.5" stroke="#000" stroke-width="2"/>
<line x1="189.8" y1="197.5" x2="263.9" y2="197.5" stroke="#000" stroke-width="2"/>
<rect x="123.4" y="189.8" width="66.4" height="15.2" fill="none" stroke="#000" stroke-width="2"/>
<line x1="154.4" y1="189.8" x2="154.4" y2="205.0" stroke="#000" stroke-width="2"/>
<circle cx="45.5" cy="484.3" r="2.90" fill="#2062a8"/>
<circle cx="68.4" cy="483.7" r="2.90" fill="#2062a8"/>
<circle cx="72.1" cy="487.8" r="2.90" fill="#2062a8"/>
<circle cx="75.6" cy="487.2" r="2.90" fill="#2062a8"/>
<circle cx="90.0" cy="478.8" r="2.90" fill="#2062a8"/>
<circle cx="90.0" cy="485.8" r="2.90" fill="#2062a8"/>
<circle cx="101.1" cy="479.2" r="2.90" fill="#2062a8"/>
<circle cx="103.6" cy="487.0" r="2.90" fill="#2062a8"/>
<circle cx="112.2" cy="481.9" r="2.90" fill="#2062a8"/>
<circle cx="112.4" cy="492.6" r="2.90" fill="#2062a8"/>
<circle cx="115.7" cy="489.6" r="2.90" fill="#2062a8"/>
<circle cx="123.8" cy="479.2" r="2.90" fill="#2062a8"/>
<circle cx="123.8" cy="487.2" r="2.90" fill="#2062a8"/>
<circle cx="128.1" cy="488.4" r="2.90" fill="#2062a8"/>
<circle cx="134.5" cy="489.5" r="2.90" fill="#2062a8"/>
<circle cx="139.2" cy="478.4" r="2.90" fill="#2062a8"/>
<circle cx="144.5" cy="483.1" r="2.90" fill="#2062a8"/>
<circle cx="144.5" cy="489.5" r="2.90" fill="#2062a8"/>
<circle cx="155.0" cy="485.4" r="2.90" fill="#2062a8"/>
<circle cx="157.3" cy="489.0" r="2.90" fill="#2062a8"/>
<circle cx="164.3" cy="483.1" r="2.90" fill="#2062a8"/>
<circle cx="166.1" cy="486.0" r="2.90" fill="#2062a8"/>
<circle cx="168.4" cy="480.2" r="2.90" fill="#2062a8"/>
<circle cx="177.2" cy="480.2" r="2.90" fill="#2062a8"/>
<circle cx="180.0" cy="482.5" r="2.90" fill="#2062a8"/>
<circle cx="178.9" cy="488.4" r="2.90" fill="#2062a8"/>
<circle cx="189.4" cy="485.6" r="2.90" fill="#2062a8"/>
<circle cx="190.8" cy="486.0" r="2.90" fill="#2062a8"/>
<circle cx="198.4" cy="485.8" r="2.90" fill="#2062a8"/>
<circle cx="202.3" cy="478.4" r="2.90" fill="#2062a8"/>
<circle cx="209.5" cy="480.2" r="2.90" fill="#2062a8"/>
<circle cx="213.4" cy="485.4" r="2.90" fill="#2062a8"/>
<circle cx="228.2" cy="486.6" r="2.90" fill="#2062a8"/>
<circle cx="262.0" cy="477.5" r="2.90" fill="#2062a8"/>
<circle cx="90.0" cy="515.5" r="2.90" fill="#f2a07e"/>
<circle cx="105.8" cy="508.2" r="2.90" fill="#f2a07e"/>
<circle cx="113.3" cy="519.9" r="2.90" fill="#f2a07e"/>
<circle cx="123.8" cy="515.8" r="2.90" fill="#f2a07e"/>
<circle cx="131.0" cy="517.6" r="2.90" fill="#f2a07e"/>
<circle cx="142.1" cy="509.4" r="2.90" fill="#f2a07e"/>
<circle cx="149.7" cy="517.6" r="2.90" fill="#f2a07e"/>
<circle cx="152.6" cy="510.0" r="2.90" fill="#f2a07e"/>
<circle cx="160.8" cy="507.6" r="2.90" fill="#f2a07e"/>
<circle cx="168.4" cy="515.8" r="2.90" fill="#f2a07e"/>
<circle cx="179.5" cy="521.1" r="2.90" fill="#f2a07e"/>
<circle cx="189.4" cy="518.1" r="2.90" fill="#f2a07e"/>
<circle cx="190.8" cy="508.8" r="2.90" fill="#f2a07e"/>
<circle cx="194.9" cy="515.2" r="2.90" fill="#f2a07e"/>
<circle cx="191.4" cy="518.7" r="2.90" fill="#f2a07e"/>
<circle cx="190.8" cy="522.8" r="2.90" fill="#f2a07e"/>
<circle cx="202.3" cy="512.9" r="2.90" fill="#f2a07e"/>
<circle cx="209.5" cy="514.6" r="2.90" fill="#f2a07e"/>
<circle cx="213.4" cy="508.2" r="2.90" fill="#f2a07e"/>
<circle cx="213.4" cy="514.6" r="2.90" fill="#f2a07e"/>
<circle cx="216.5" cy="520.5" r="2.90" fill="#f2a07e"/>
<circle cx="220.6" cy="511.7" r="2.90" fill="#f2a07e"/>
<circle cx="224.7" cy="512.3" r="2.90" fill="#f2a07e"/>
<circle cx="225.3" cy="522.8" r="2.90" fill="#f2a07e"/>
<circle cx="228.4" cy="517.6" r="2.90" fill="#f2a07e"/>
<circle cx="235.8" cy="509.1" r="2.90" fill="#f2a07e"/>
<circle cx="238.5" cy="522.2" r="2.90" fill="#f2a07e"/>
<circle cx="246.9" cy="508.8" r="2.90" fill="#f2a07e"/>
<circle cx="246.9" cy="520.5" r="2.90" fill="#f2a07e"/>
<circle cx="258.1" cy="511.8" r="2.90" fill="#f2a07e"/>
<line x1="45.5" y1="484.8" x2="112.3" y2="484.8" stroke="#000" stroke-width="2"/>
<line x1="179.8" y1="484.8" x2="262.0" y2="484.8" stroke="#000" stroke-width="2"/>
<rect x="112.3" y="477.0" width="67.5" height="15.4" fill="none" stroke="#000" stroke-width="2"/>
<line x1="146.0" y1="477.0" x2="146.0" y2="492.4" stroke="#000" stroke-width="2"/>
<line x1="90.1" y1="515.8" x2="155.0" y2="515.8" stroke="#000" stroke-width="2"/>
<line x1="224.7" y1="515.8" x2="258.1" y2="515.8" stroke="#000" stroke-width="2"/>
<rect x="155.0" y="508.0" width="69.7" height="15.0" fill="none" stroke="#000" stroke-width="2"/>
<line x1="202.3" y1="508.0" x2="202.3" y2="523.0" stroke="#000" stroke-width="2"/>
<circle cx="400.6" cy="480.8" r="2.90" fill="#2062a8"/>
<circle cx="400.6" cy="484.3" r="2.90" fill="#2062a8"/>
<circle cx="400.6" cy="486.6" r="2.90" fill="#2062a8"/>
<circle cx="407.8" cy="483.7" r="2.90" fill="#2062a8"/>
<circle cx="411.7" cy="477.3" r="2.90" fill="#2062a8"/>
<circle cx="415.4" cy="487.2" r="2.90" fill="#2062a8"/>
<circle cx="419.5" cy="480.5" r="2.90" fill="#2062a8"/>
<circle cx="433.5" cy="478.8" r="2.90" fill="#2062a8"/>
<circle cx="433.5" cy="486.0" r="2.90" fill="#2062a8"/>
<circle cx="441.1" cy="489.0" r="2.90" fill="#2062a8"/>
<circle cx="445.2" cy="485.4" r="2.90" fill="#2062a8"/>
<circle cx="449.3" cy="477.8" r="2.90" fill="#2062a8"/>
<circle cx="452.8" cy="489.5" r="2.90" fill="#2062a8"/>
<circle cx="451.1" cy="492.4" r="2.90" fill="#2062a8"/>
<circle cx="457.5" cy="489.5" r="2.90" fill="#2062a8"/>
<circle cx="467.6" cy="482.5" r="2.90" fill="#2062a8"/>
<circle cx="470.5" cy="487.1" r="2.90" fill="#2062a8"/>
<circle cx="467.6" cy="489.8" r="2.90" fill="#2062a8"/>
<circle cx="479.0" cy="490.1" r="2.90" fill="#2062a8"/>
<circle cx="490.7" cy="479.0" r="2.90" fill="#2062a8"/>
<circle cx="490.1" cy="482.5" r="2.90" fill="#2062a8"/>
<circle cx="501.4" cy="488.9" r="2.90" fill="#2062a8"/>
<circle cx="512.6" cy="482.5" r="2.90" fill="#2062a8"/>
<circle cx="517.6" cy="486.0" r="2.90" fill="#2062a8"/>
<circle cx="521.6" cy="489.5" r="2.90" fill="#2062a8"/>
<circle cx="524.0" cy="476.7" r="2.90" fill="#2062a8"/>
<circle cx="524.0" cy="479.6" r="2.90" fill="#2062a8"/>
<circle cx="529.2" cy="486.6" r="2.90" fill="#2062a8"/>
<circle cx="572.6" cy="487.5" r="2.90" fill="#2062a8"/>
<circle cx="400.6" cy="508.2" r="2.90" fill="#f2a07e"/>
<circle cx="400.6" cy="511.5" r="2.90" fill="#f2a07e"/>
<circle cx="400.6" cy="514.5" r="2.90" fill="#f2a07e"/>
<circle cx="400.6" cy="518.0" r="2.90" fill="#f2a07e"/>
<circle cx="400.6" cy="521.0" r="2.90" fill="#f2a07e"/>
<circle cx="400.6" cy="524.6" r="2.90" fill="#f2a07e"/>
<circle cx="407.8" cy="514.0" r="2.90" fill="#f2a07e"/>
<circle cx="411.7" cy="519.3" r="2.90" fill="#f2a07e"/>
<circle cx="419.0" cy="512.3" r="2.90" fill="#f2a07e"/>
<circle cx="423.0" cy="511.1" r="2.90" fill="#f2a07e"/>
<circle cx="423.0" cy="522.2" r="2.90" fill="#f2a07e"/>
<circle cx="434.1" cy="510.5" r="2.90" fill="#f2a07e"/>
<circle cx="445.2" cy="523.4" r="2.90" fill="#f2a07e"/>
<circle cx="456.9" cy="512.3" r="2.90" fill="#f2a07e"/>
<circle cx="472.1" cy="514.0" r="2.90" fill="#f2a07e"/>
<circle cx="471.5" cy="522.8" r="2.90" fill="#f2a07e"/>
<circle cx="473.8" cy="515.0" r="2.90" fill="#f2a07e"/>
<circle cx="479.0" cy="515.0" r="2.90" fill="#f2a07e"/>
<circle cx="471.4" cy="522.8" r="2.90" fill="#f2a07e"/>
<circle cx="486.4" cy="508.8" r="2.90" fill="#f2a07e"/>
<circle cx="512.6" cy="509.1" r="2.90" fill="#f2a07e"/>
<circle cx="525.5" cy="518.1" r="2.90" fill="#f2a07e"/>
<circle cx="538.9" cy="521.6" r="2.90" fill="#f2a07e"/>
<circle cx="546.2" cy="513.5" r="2.90" fill="#f2a07e"/>
<line x1="400.5" y1="484.8" x2="435.6" y2="484.8" stroke="#000" stroke-width="2"/>
<line x1="490.5" y1="484.8" x2="529.2" y2="484.8" stroke="#000" stroke-width="2"/>
<rect x="435.6" y="477.0" width="54.9" height="15.4" fill="none" stroke="#000" stroke-width="2"/>
<line x1="456.3" y1="477.0" x2="456.3" y2="492.4" stroke="#000" stroke-width="2"/>
<line x1="400.5" y1="515.8" x2="400.7" y2="515.8" stroke="#000" stroke-width="2"/>
<line x1="453.4" y1="515.8" x2="525.4" y2="515.8" stroke="#000" stroke-width="2"/>
<rect x="400.7" y="508.2" width="52.7" height="14.6" fill="none" stroke="#000" stroke-width="2"/>
<line x1="411.7" y1="508.2" x2="411.7" y2="522.8" stroke="#000" stroke-width="2"/>
<rect x="521.5" y="37.5" width="134" height="46" fill="#fff" stroke="#555555" stroke-width="1"/>
<line x1="527" y1="50.4" x2="585" y2="50.4" stroke="#2062a8" stroke-width="3"/>
<line x1="527" y1="70.4" x2="585" y2="70.4" stroke="#f4a582" stroke-width="3"/>
</svg>
<svg class="tx" width="685" height="605" viewBox="0 0 685 605">
<text transform="translate(45.50,256.80) scale(1.0000,1.0800)" class="tk">0</text>
<text transform="translate(123.62,256.80) scale(1.0000,1.0800)" class="tk">&#8199;0</text>
<path transform="translate(114.17,256.80) scale(0.008301,-0.008965)" d="M505,0 L690,0 L690,1409 L545,1409 Q480,1290 350,1185 Q250,1105 150,1065 L150,885 Q250,925 345,985 Q440,1050 505,1110 Z" fill="#262626"/>
<text transform="translate(201.75,256.80) scale(1.0000,1.0800)" class="tk">20</text>
<text transform="translate(279.88,256.80) scale(1.0000,1.0800)" class="tk">30</text>
<text transform="translate(358.00,256.80) scale(1.0000,1.0800)" class="tk">40</text>
<text transform="translate(436.12,256.80) scale(1.0000,1.0800)" class="tk">50</text>
<text transform="translate(514.25,256.80) scale(1.0000,1.0800)" class="tk">60</text>
<text transform="translate(592.38,256.80) scale(1.0000,1.0800)" class="tk">70</text>
<text transform="translate(670.50,256.80) scale(1.0000,1.0800)" class="tk">80</text>
<text transform="translate(45.50,575.00) scale(1.0000,1.0800)" class="tk">0</text>
<text transform="translate(179.75,575.00) scale(1.0000,1.0800)" class="tk">50</text>
<text transform="translate(314.00,575.00) scale(1.0000,1.0800)" class="tk">&#8199;00</text>
<path transform="translate(299.82,575.00) scale(0.008301,-0.008965)" d="M505,0 L690,0 L690,1409 L545,1409 Q480,1290 350,1185 Q250,1105 150,1065 L150,885 Q250,925 345,985 Q440,1050 505,1110 Z" fill="#262626"/>
<text transform="translate(400.50,575.00) scale(1.0000,1.0800)" class="tk">0</text>
<text transform="translate(535.25,575.00) scale(1.0000,1.0800)" class="tk">50</text>
<text transform="translate(670.00,575.00) scale(1.0000,1.0800)" class="tk">&#8199;00</text>
<path transform="translate(655.82,575.00) scale(0.008301,-0.008965)" d="M505,0 L690,0 L690,1409 L545,1409 Q480,1290 350,1185 Q250,1105 150,1065 L150,885 Q250,925 345,985 Q440,1050 505,1110 Z" fill="#262626"/>
<text transform="translate(589.50,56.00) scale(1.0000,1.0000)" class="lg">Baseline</text>
<text transform="translate(589.50,76.80) scale(1.0000,1.0000)" class="lg">6-MFU</text>
<text transform="translate(358.00,21.60) scale(1.0000,1.0200)" class="tt">UPDRS III</text>
<text transform="translate(180.00,340.20) scale(1.0000,1.0200)" class="tt">Time spent in ON</text>
<text transform="translate(535.20,340.20) scale(1.0000,1.0200)" class="tt">Time spent in OFF</text>
<text transform="translate(358.00,280.80) scale(1.0000,1.0400)" class="al">UPDRS III [points]</text>
<text transform="translate(179.60,598.80) scale(1.0000,1.0400)" class="al" style="font-size:19.05px">Percentage of Day [%]</text>
<text transform="translate(534.80,598.80) scale(1.0000,1.0400)" class="al" style="font-size:19.05px">Percentage of Day [%]</text>
<text transform="translate(1.5,26.8) scale(0.985,1.064)" class="pl">A</text>
<text transform="translate(-1.6,344.8) scale(1.035,1.055)" class="pl">B</text>
<text transform="translate(356.2,345.4) scale(1.014,1.03)" class="pl">C</text>
</svg>
</body></html>
